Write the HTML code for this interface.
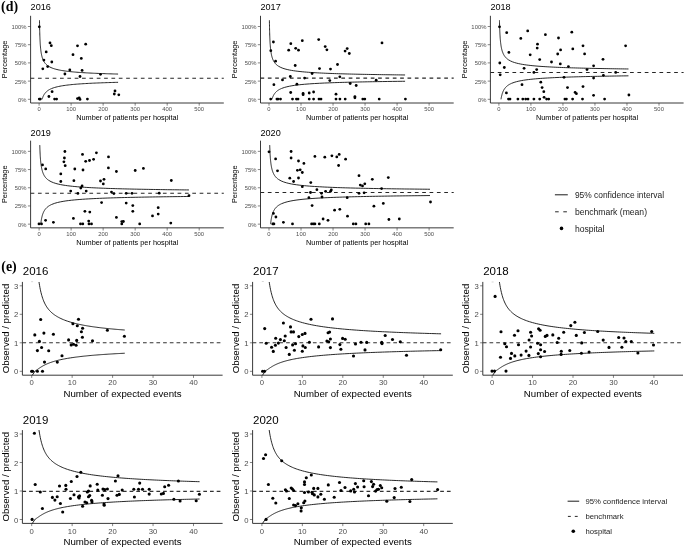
<!DOCTYPE html>
<html><head><meta charset="utf-8"><style>
html,body{margin:0;padding:0;background:#fff;}
body{width:685px;height:549px;position:relative;overflow:hidden;font-family:"Liberation Sans", sans-serif;}
</style></head><body>
<svg width="685" height="549" viewBox="0 0 685 549" style="position:absolute;left:0;top:0;will-change:transform" font-family='"Liberation Sans", sans-serif'>
<rect width="685" height="549" fill="#fff"/>
<text x="1.1" y="10.9" font-family='"Liberation Serif", serif' font-weight="bold" font-size="13.9">(d)</text>
<text x="1.3" y="270.6" font-family='"Liberation Serif", serif' font-weight="bold" font-size="13.9">(e)</text>
<clipPath id="cd2016"><rect x="30.6" y="15.8" width="193.2" height="87.2"/></clipPath>
<path d="M30.6 15.8V103H223.8" fill="none" stroke="#222222" stroke-width="0.9"/>
<line x1="27.9" y1="99.3" x2="30.6" y2="99.3" stroke="#333333" stroke-width="0.6"/>
<text x="26.6" y="101.81" font-size="5.88" fill="#4d4d4d" text-anchor="end">0%</text>
<line x1="27.9" y1="81.1" x2="30.6" y2="81.1" stroke="#333333" stroke-width="0.6"/>
<text x="26.6" y="83.61" font-size="5.88" fill="#4d4d4d" text-anchor="end">25%</text>
<line x1="27.9" y1="62.9" x2="30.6" y2="62.9" stroke="#333333" stroke-width="0.6"/>
<text x="26.6" y="65.41" font-size="5.88" fill="#4d4d4d" text-anchor="end">50%</text>
<line x1="27.9" y1="44.7" x2="30.6" y2="44.7" stroke="#333333" stroke-width="0.6"/>
<text x="26.6" y="47.21" font-size="5.88" fill="#4d4d4d" text-anchor="end">75%</text>
<line x1="27.9" y1="26.5" x2="30.6" y2="26.5" stroke="#333333" stroke-width="0.6"/>
<text x="26.6" y="29.01" font-size="5.88" fill="#4d4d4d" text-anchor="end">100%</text>
<line x1="39.1" y1="103" x2="39.1" y2="105.7" stroke="#333333" stroke-width="0.6"/>
<text x="39.1" y="110.9" font-size="5.88" fill="#4d4d4d" text-anchor="middle">0</text>
<line x1="71.12" y1="103" x2="71.12" y2="105.7" stroke="#333333" stroke-width="0.6"/>
<text x="71.12" y="110.9" font-size="5.88" fill="#4d4d4d" text-anchor="middle">100</text>
<line x1="103.14" y1="103" x2="103.14" y2="105.7" stroke="#333333" stroke-width="0.6"/>
<text x="103.14" y="110.9" font-size="5.88" fill="#4d4d4d" text-anchor="middle">200</text>
<line x1="135.16" y1="103" x2="135.16" y2="105.7" stroke="#333333" stroke-width="0.6"/>
<text x="135.16" y="110.9" font-size="5.88" fill="#4d4d4d" text-anchor="middle">300</text>
<line x1="167.18" y1="103" x2="167.18" y2="105.7" stroke="#333333" stroke-width="0.6"/>
<text x="167.18" y="110.9" font-size="5.88" fill="#4d4d4d" text-anchor="middle">400</text>
<line x1="199.2" y1="103" x2="199.2" y2="105.7" stroke="#333333" stroke-width="0.6"/>
<text x="199.2" y="110.9" font-size="5.88" fill="#4d4d4d" text-anchor="middle">500</text>
<text x="127.2" y="120.4" font-size="7.35" text-anchor="middle">Number of patients per hospital</text>
<text transform="translate(7,59.4) rotate(-90)" font-size="7.35" text-anchor="middle">Percentage</text>
<text x="30.6" y="9.8" font-size="9.1">2016</text>
<line x1="30.6" y1="78.19" x2="223.8" y2="78.19" stroke="#262626" stroke-width="1.05" stroke-dasharray="3.7 3.65"/>
<g clip-path="url(#cd2016)" fill="none" stroke="#000" stroke-width="0.85"><path d="M39.5 20.31 L39.52 21.85 L39.55 23.35 L39.57 24.8 L39.6 26.22 L39.62 27.6 L39.65 28.94 L39.68 30.25 L39.72 31.53 L39.75 32.77 L39.79 33.97 L39.82 35.15 L39.86 36.29 L39.91 37.4 L39.95 38.49 L40 39.54 L40.05 40.57 L40.1 41.57 L40.16 42.54 L40.21 43.49 L40.28 44.41 L40.34 45.31 L40.41 46.18 L40.48 47.03 L40.56 47.86 L40.64 48.66 L40.72 49.45 L40.81 50.21 L40.91 50.95 L41.01 51.68 L41.12 52.38 L41.23 53.07 L41.34 53.73 L41.47 54.38 L41.6 55.02 L41.74 55.63 L41.88 56.23 L42.04 56.81 L42.2 57.38 L42.37 57.93 L42.55 58.47 L42.74 59 L42.95 59.51 L43.16 60 L43.38 60.49 L43.62 60.96 L43.87 61.41 L44.13 61.86 L44.41 62.29 L44.71 62.71 L45.02 63.13 L45.34 63.53 L45.69 63.92 L46.05 64.29 L46.44 64.66 L46.84 65.02 L47.27 65.37 L47.73 65.71 L48.2 66.04 L48.71 66.37 L49.88 67.03 L51.06 67.59 L52.23 68.08 L53.41 68.5 L54.59 68.88 L55.76 69.21 L56.94 69.51 L58.11 69.79 L59.29 70.03 L60.47 70.26 L61.64 70.47 L62.82 70.67 L63.99 70.85 L65.17 71.01 L66.35 71.17 L67.52 71.32 L68.7 71.45 L69.88 71.58 L71.05 71.71 L72.23 71.82 L73.4 71.93 L74.58 72.04 L75.76 72.14 L76.93 72.23 L78.11 72.32 L79.28 72.41 L80.46 72.49 L81.64 72.57 L82.81 72.65 L83.99 72.72 L85.16 72.79 L86.34 72.86 L87.52 72.92 L88.69 72.99 L89.87 73.05 L91.04 73.1 L92.22 73.16 L93.4 73.22 L94.57 73.27 L95.75 73.32 L96.92 73.37 L98.1 73.42 L99.28 73.47 L100.45 73.51 L101.63 73.55 L102.8 73.6 L103.98 73.64 L105.16 73.68 L106.33 73.72 L107.51 73.76 L108.68 73.8 L109.86 73.83 L111.04 73.87 L112.21 73.9 L113.39 73.94 L114.57 73.97 L115.74 74 L116.92 74.03 L118.09 74.07"/><path d="M42.11 99.3 L42.2 98.99 L42.29 98.69 L42.39 98.38 L42.49 98.09 L42.59 97.8 L42.7 97.51 L42.8 97.23 L42.91 96.95 L43.03 96.67 L43.15 96.4 L43.27 96.13 L43.39 95.87 L43.52 95.61 L43.65 95.36 L43.79 95.1 L43.93 94.86 L44.08 94.61 L44.23 94.37 L44.38 94.13 L44.54 93.9 L44.7 93.67 L44.87 93.44 L45.04 93.22 L45.22 93 L45.4 92.78 L45.59 92.57 L45.79 92.36 L45.99 92.15 L46.19 91.94 L46.41 91.74 L46.63 91.54 L46.85 91.35 L47.08 91.15 L47.32 90.96 L47.57 90.78 L47.82 90.59 L48.08 90.41 L48.35 90.23 L48.63 90.05 L48.92 89.88 L49.21 89.71 L49.52 89.54 L49.83 89.37 L50.15 89.21 L50.48 89.05 L50.82 88.89 L51.17 88.73 L51.54 88.58 L51.91 88.43 L53.26 87.92 L54.61 87.49 L55.96 87.11 L57.31 86.77 L58.66 86.47 L60.01 86.2 L61.36 85.95 L62.71 85.73 L64.06 85.52 L65.42 85.33 L66.77 85.15 L68.12 84.99 L69.47 84.84 L70.82 84.69 L72.17 84.56 L73.52 84.43 L74.87 84.31 L76.22 84.2 L77.57 84.09 L78.92 83.99 L80.27 83.9 L81.62 83.81 L82.97 83.72 L84.33 83.64 L85.68 83.56 L87.03 83.48 L88.38 83.41 L89.73 83.34 L91.08 83.27 L92.43 83.2 L93.78 83.14 L95.13 83.08 L96.48 83.02 L97.83 82.97 L99.18 82.91 L100.53 82.86 L101.88 82.81 L103.24 82.76 L104.59 82.72 L105.94 82.67 L107.29 82.62 L108.64 82.58 L109.99 82.54 L111.34 82.5 L112.69 82.46 L114.04 82.42 L115.39 82.38 L116.74 82.35 L118.09 82.31"/></g>
<g fill="#000"><circle cx="39.3" cy="26.8" r="1.4"/><circle cx="50" cy="42.9" r="1.4"/><circle cx="51.3" cy="45.7" r="1.4"/><circle cx="46.2" cy="51.9" r="1.4"/><circle cx="43.9" cy="60.1" r="1.4"/><circle cx="51.8" cy="62" r="1.4"/><circle cx="42.8" cy="68.8" r="1.4"/><circle cx="47.7" cy="66.6" r="1.4"/><circle cx="64.9" cy="74" r="1.4"/><circle cx="69.8" cy="69.9" r="1.4"/><circle cx="73" cy="54.7" r="1.4"/><circle cx="77.5" cy="45.8" r="1.4"/><circle cx="85.7" cy="44.2" r="1.4"/><circle cx="81.3" cy="58.4" r="1.4"/><circle cx="82.1" cy="70.4" r="1.4"/><circle cx="80" cy="76.5" r="1.4"/><circle cx="100.5" cy="74.3" r="1.4"/><circle cx="52.1" cy="91.7" r="1.4"/><circle cx="48.9" cy="96.5" r="1.4"/><circle cx="39.3" cy="99.1" r="1.4"/><circle cx="40.3" cy="99.1" r="1.4"/><circle cx="54.6" cy="99.1" r="1.4"/><circle cx="56.6" cy="99.1" r="1.4"/><circle cx="77.5" cy="98.6" r="1.4"/><circle cx="79.2" cy="97.8" r="1.4"/><circle cx="80" cy="99.4" r="1.4"/><circle cx="87.4" cy="99.1" r="1.4"/><circle cx="115" cy="90.9" r="1.4"/><circle cx="114.3" cy="94" r="1.4"/><circle cx="118.8" cy="94.8" r="1.4"/></g>
<clipPath id="cd2017"><rect x="260.5" y="15.8" width="193.2" height="87.2"/></clipPath>
<path d="M260.5 15.8V103H453.7" fill="none" stroke="#222222" stroke-width="0.9"/>
<line x1="257.8" y1="99.3" x2="260.5" y2="99.3" stroke="#333333" stroke-width="0.6"/>
<text x="256.5" y="101.81" font-size="5.88" fill="#4d4d4d" text-anchor="end">0%</text>
<line x1="257.8" y1="81.1" x2="260.5" y2="81.1" stroke="#333333" stroke-width="0.6"/>
<text x="256.5" y="83.61" font-size="5.88" fill="#4d4d4d" text-anchor="end">25%</text>
<line x1="257.8" y1="62.9" x2="260.5" y2="62.9" stroke="#333333" stroke-width="0.6"/>
<text x="256.5" y="65.41" font-size="5.88" fill="#4d4d4d" text-anchor="end">50%</text>
<line x1="257.8" y1="44.7" x2="260.5" y2="44.7" stroke="#333333" stroke-width="0.6"/>
<text x="256.5" y="47.21" font-size="5.88" fill="#4d4d4d" text-anchor="end">75%</text>
<line x1="257.8" y1="26.5" x2="260.5" y2="26.5" stroke="#333333" stroke-width="0.6"/>
<text x="256.5" y="29.01" font-size="5.88" fill="#4d4d4d" text-anchor="end">100%</text>
<line x1="269" y1="103" x2="269" y2="105.7" stroke="#333333" stroke-width="0.6"/>
<text x="269" y="110.9" font-size="5.88" fill="#4d4d4d" text-anchor="middle">0</text>
<line x1="301.02" y1="103" x2="301.02" y2="105.7" stroke="#333333" stroke-width="0.6"/>
<text x="301.02" y="110.9" font-size="5.88" fill="#4d4d4d" text-anchor="middle">100</text>
<line x1="333.04" y1="103" x2="333.04" y2="105.7" stroke="#333333" stroke-width="0.6"/>
<text x="333.04" y="110.9" font-size="5.88" fill="#4d4d4d" text-anchor="middle">200</text>
<line x1="365.06" y1="103" x2="365.06" y2="105.7" stroke="#333333" stroke-width="0.6"/>
<text x="365.06" y="110.9" font-size="5.88" fill="#4d4d4d" text-anchor="middle">300</text>
<line x1="397.08" y1="103" x2="397.08" y2="105.7" stroke="#333333" stroke-width="0.6"/>
<text x="397.08" y="110.9" font-size="5.88" fill="#4d4d4d" text-anchor="middle">400</text>
<line x1="429.1" y1="103" x2="429.1" y2="105.7" stroke="#333333" stroke-width="0.6"/>
<text x="429.1" y="110.9" font-size="5.88" fill="#4d4d4d" text-anchor="middle">500</text>
<text x="357.1" y="120.4" font-size="7.35" text-anchor="middle">Number of patients per hospital</text>
<text transform="translate(236.9,59.4) rotate(-90)" font-size="7.35" text-anchor="middle">Percentage</text>
<text x="260.5" y="9.8" font-size="9.1">2017</text>
<line x1="260.5" y1="78.12" x2="453.7" y2="78.12" stroke="#262626" stroke-width="1.05" stroke-dasharray="3.7 3.65"/>
<g clip-path="url(#cd2017)" fill="none" stroke="#000" stroke-width="0.85"><path d="M269.4 20.31 L269.42 21.85 L269.45 23.34 L269.47 24.79 L269.5 26.21 L269.53 27.58 L269.56 28.92 L269.59 30.23 L269.62 31.5 L269.65 32.73 L269.69 33.94 L269.73 35.11 L269.77 36.25 L269.81 37.36 L269.85 38.44 L269.9 39.49 L269.95 40.52 L270 41.52 L270.06 42.49 L270.12 43.43 L270.18 44.35 L270.25 45.25 L270.31 46.12 L270.39 46.97 L270.46 47.79 L270.54 48.6 L270.63 49.38 L270.72 50.14 L270.81 50.89 L270.91 51.61 L271.02 52.31 L271.13 53 L271.25 53.66 L271.37 54.31 L271.5 54.94 L271.64 55.56 L271.79 56.16 L271.94 56.74 L272.11 57.3 L272.28 57.86 L272.46 58.39 L272.65 58.92 L272.85 59.43 L273.06 59.92 L273.29 60.4 L273.53 60.87 L273.78 61.33 L274.04 61.78 L274.32 62.21 L274.61 62.63 L274.92 63.04 L275.25 63.44 L275.59 63.83 L275.96 64.21 L276.34 64.58 L276.75 64.94 L277.18 65.29 L277.63 65.63 L278.1 65.96 L278.61 66.28 L280.75 67.42 L282.89 68.28 L285.04 68.96 L287.18 69.51 L289.32 69.98 L291.47 70.38 L293.61 70.72 L295.76 71.02 L297.9 71.29 L300.04 71.53 L302.19 71.75 L304.33 71.95 L306.47 72.12 L308.62 72.29 L310.76 72.44 L312.91 72.58 L315.05 72.71 L317.19 72.83 L319.34 72.95 L321.48 73.05 L323.62 73.15 L325.77 73.25 L327.91 73.34 L330.06 73.42 L332.2 73.5 L334.34 73.58 L336.49 73.65 L338.63 73.72 L340.77 73.79 L342.92 73.85 L345.06 73.91 L347.2 73.97 L349.35 74.02 L351.49 74.08 L353.64 74.13 L355.78 74.18 L357.92 74.23 L360.07 74.27 L362.21 74.32 L364.35 74.36 L366.5 74.4 L368.64 74.44 L370.79 74.48 L372.93 74.52 L375.07 74.55 L377.22 74.59 L379.36 74.62 L381.5 74.66 L383.65 74.69 L385.79 74.72 L387.94 74.75 L390.08 74.78 L392.22 74.81 L394.37 74.84 L396.51 74.87 L398.65 74.89 L400.8 74.92 L402.94 74.95 L405.08 74.97"/><path d="M272 99.3 L272.09 98.99 L272.18 98.68 L272.28 98.38 L272.37 98.08 L272.48 97.79 L272.58 97.5 L272.69 97.21 L272.8 96.93 L272.91 96.65 L273.03 96.38 L273.15 96.11 L273.28 95.85 L273.41 95.59 L273.54 95.33 L273.68 95.08 L273.82 94.83 L273.96 94.58 L274.11 94.34 L274.26 94.1 L274.42 93.87 L274.59 93.63 L274.75 93.41 L274.93 93.18 L275.1 92.96 L275.29 92.74 L275.48 92.53 L275.67 92.31 L275.87 92.1 L276.08 91.9 L276.29 91.7 L276.51 91.5 L276.74 91.3 L276.97 91.11 L277.21 90.91 L277.46 90.73 L277.71 90.54 L277.97 90.36 L278.24 90.18 L278.52 90 L278.81 89.83 L279.1 89.65 L279.41 89.48 L279.72 89.32 L280.04 89.15 L280.38 88.99 L280.72 88.83 L281.07 88.67 L281.43 88.52 L281.81 88.36 L284.32 87.48 L286.84 86.8 L289.36 86.24 L291.87 85.78 L294.39 85.39 L296.9 85.06 L299.42 84.76 L301.93 84.51 L304.45 84.27 L306.97 84.07 L309.48 83.88 L312 83.71 L314.51 83.55 L317.03 83.41 L319.55 83.27 L322.06 83.15 L324.58 83.03 L327.09 82.93 L329.61 82.83 L332.13 82.73 L334.64 82.64 L337.16 82.56 L339.67 82.48 L342.19 82.4 L344.7 82.33 L347.22 82.26 L349.74 82.2 L352.25 82.13 L354.77 82.08 L357.28 82.02 L359.8 81.96 L362.32 81.91 L364.83 81.86 L367.35 81.81 L369.86 81.77 L372.38 81.72 L374.89 81.68 L377.41 81.64 L379.93 81.6 L382.44 81.56 L384.96 81.52 L387.47 81.48 L389.99 81.45 L392.51 81.42 L395.02 81.38 L397.54 81.35 L400.05 81.32 L402.57 81.29 L405.08 81.26"/></g>
<g fill="#000"><circle cx="273.4" cy="42" r="1.4"/><circle cx="270.8" cy="50.7" r="1.4"/><circle cx="275.6" cy="61.2" r="1.4"/><circle cx="290.8" cy="43.7" r="1.4"/><circle cx="288.7" cy="50.2" r="1.4"/><circle cx="295.7" cy="48.3" r="1.4"/><circle cx="298.5" cy="50.2" r="1.4"/><circle cx="302.3" cy="40.7" r="1.4"/><circle cx="295.2" cy="65.5" r="1.4"/><circle cx="318.7" cy="39.6" r="1.4"/><circle cx="325.2" cy="46.6" r="1.4"/><circle cx="326.9" cy="49.8" r="1.4"/><circle cx="319.5" cy="68.6" r="1.4"/><circle cx="330.5" cy="69.1" r="1.4"/><circle cx="337.5" cy="64.5" r="1.4"/><circle cx="312.1" cy="73.5" r="1.4"/><circle cx="290.3" cy="76.5" r="1.4"/><circle cx="304.6" cy="78.1" r="1.4"/><circle cx="282.5" cy="79.9" r="1.4"/><circle cx="339.8" cy="76.8" r="1.4"/><circle cx="329.8" cy="80.6" r="1.4"/><circle cx="273.9" cy="84.7" r="1.4"/><circle cx="296.9" cy="84.2" r="1.4"/><circle cx="290.7" cy="92.5" r="1.4"/><circle cx="303.1" cy="93.4" r="1.4"/><circle cx="303.1" cy="94.7" r="1.4"/><circle cx="309.2" cy="93" r="1.4"/><circle cx="313.6" cy="92" r="1.4"/><circle cx="336" cy="94.2" r="1.4"/><circle cx="345.1" cy="51.1" r="1.4"/><circle cx="347.2" cy="48.6" r="1.4"/><circle cx="349.3" cy="53.5" r="1.4"/><circle cx="382" cy="42.9" r="1.4"/><circle cx="350.2" cy="83.5" r="1.4"/><circle cx="356.2" cy="85.5" r="1.4"/><circle cx="376.2" cy="80.2" r="1.4"/><circle cx="354.9" cy="96.6" r="1.4"/><circle cx="354.9" cy="97.8" r="1.4"/><circle cx="270.7" cy="99.1" r="1.4"/><circle cx="276.9" cy="99.1" r="1.4"/><circle cx="278" cy="99.1" r="1.4"/><circle cx="280.5" cy="99.1" r="1.4"/><circle cx="292.5" cy="99.1" r="1.4"/><circle cx="296.4" cy="99.1" r="1.4"/><circle cx="298" cy="99.1" r="1.4"/><circle cx="309.2" cy="99.1" r="1.4"/><circle cx="313.6" cy="99.1" r="1.4"/><circle cx="319" cy="99.1" r="1.4"/><circle cx="321" cy="99.1" r="1.4"/><circle cx="336" cy="99.1" r="1.4"/><circle cx="339.9" cy="99.1" r="1.4"/><circle cx="345.2" cy="99.1" r="1.4"/><circle cx="362.8" cy="99.1" r="1.4"/><circle cx="364.8" cy="99.1" r="1.4"/><circle cx="379.2" cy="99.1" r="1.4"/><circle cx="405.4" cy="99.1" r="1.4"/></g>
<clipPath id="cd2018"><rect x="490.4" y="15.8" width="193.2" height="87.2"/></clipPath>
<path d="M490.4 15.8V103H683.6" fill="none" stroke="#222222" stroke-width="0.9"/>
<line x1="487.7" y1="99.3" x2="490.4" y2="99.3" stroke="#333333" stroke-width="0.6"/>
<text x="486.4" y="101.81" font-size="5.88" fill="#4d4d4d" text-anchor="end">0%</text>
<line x1="487.7" y1="81.1" x2="490.4" y2="81.1" stroke="#333333" stroke-width="0.6"/>
<text x="486.4" y="83.61" font-size="5.88" fill="#4d4d4d" text-anchor="end">25%</text>
<line x1="487.7" y1="62.9" x2="490.4" y2="62.9" stroke="#333333" stroke-width="0.6"/>
<text x="486.4" y="65.41" font-size="5.88" fill="#4d4d4d" text-anchor="end">50%</text>
<line x1="487.7" y1="44.7" x2="490.4" y2="44.7" stroke="#333333" stroke-width="0.6"/>
<text x="486.4" y="47.21" font-size="5.88" fill="#4d4d4d" text-anchor="end">75%</text>
<line x1="487.7" y1="26.5" x2="490.4" y2="26.5" stroke="#333333" stroke-width="0.6"/>
<text x="486.4" y="29.01" font-size="5.88" fill="#4d4d4d" text-anchor="end">100%</text>
<line x1="498.9" y1="103" x2="498.9" y2="105.7" stroke="#333333" stroke-width="0.6"/>
<text x="498.9" y="110.9" font-size="5.88" fill="#4d4d4d" text-anchor="middle">0</text>
<line x1="530.92" y1="103" x2="530.92" y2="105.7" stroke="#333333" stroke-width="0.6"/>
<text x="530.92" y="110.9" font-size="5.88" fill="#4d4d4d" text-anchor="middle">100</text>
<line x1="562.94" y1="103" x2="562.94" y2="105.7" stroke="#333333" stroke-width="0.6"/>
<text x="562.94" y="110.9" font-size="5.88" fill="#4d4d4d" text-anchor="middle">200</text>
<line x1="594.96" y1="103" x2="594.96" y2="105.7" stroke="#333333" stroke-width="0.6"/>
<text x="594.96" y="110.9" font-size="5.88" fill="#4d4d4d" text-anchor="middle">300</text>
<line x1="626.98" y1="103" x2="626.98" y2="105.7" stroke="#333333" stroke-width="0.6"/>
<text x="626.98" y="110.9" font-size="5.88" fill="#4d4d4d" text-anchor="middle">400</text>
<line x1="659" y1="103" x2="659" y2="105.7" stroke="#333333" stroke-width="0.6"/>
<text x="659" y="110.9" font-size="5.88" fill="#4d4d4d" text-anchor="middle">500</text>
<text x="587" y="120.4" font-size="7.35" text-anchor="middle">Number of patients per hospital</text>
<text transform="translate(466.8,59.4) rotate(-90)" font-size="7.35" text-anchor="middle">Percentage</text>
<text x="490.4" y="9.8" font-size="9.1">2018</text>
<line x1="490.4" y1="72.4" x2="683.6" y2="72.4" stroke="#262626" stroke-width="1.05" stroke-dasharray="3.7 3.65"/>
<g clip-path="url(#cd2018)" fill="none" stroke="#000" stroke-width="0.85"><path d="M499.46 20.31 L499.49 21.55 L499.52 22.76 L499.55 23.94 L499.58 25.1 L499.61 26.22 L499.65 27.32 L499.68 28.39 L499.72 29.44 L499.76 30.46 L499.81 31.46 L499.85 32.44 L499.9 33.39 L499.95 34.32 L500 35.22 L500.05 36.11 L500.11 36.97 L500.17 37.82 L500.23 38.64 L500.3 39.44 L500.37 40.23 L500.44 40.99 L500.52 41.74 L500.6 42.47 L500.68 43.18 L500.77 43.88 L500.86 44.56 L500.96 45.22 L501.06 45.87 L501.16 46.5 L501.28 47.11 L501.39 47.72 L501.52 48.3 L501.64 48.88 L501.78 49.44 L501.92 49.98 L502.07 50.52 L502.23 51.04 L502.39 51.55 L502.56 52.04 L502.75 52.53 L502.94 53 L503.13 53.46 L503.34 53.91 L503.56 54.35 L503.79 54.78 L504.03 55.2 L504.29 55.61 L504.55 56.01 L504.83 56.4 L505.13 56.78 L505.43 57.15 L505.76 57.52 L506.09 57.87 L506.45 58.22 L506.82 58.55 L507.21 58.88 L507.62 59.21 L508.05 59.52 L508.51 59.83 L510.54 60.98 L512.57 61.86 L514.61 62.57 L516.64 63.15 L518.67 63.64 L520.71 64.05 L522.74 64.42 L524.77 64.74 L526.81 65.02 L528.84 65.28 L530.87 65.51 L532.91 65.72 L534.94 65.91 L536.98 66.08 L539.01 66.25 L541.04 66.4 L543.08 66.54 L545.11 66.67 L547.14 66.79 L549.18 66.9 L551.21 67.01 L553.24 67.11 L555.28 67.21 L557.31 67.3 L559.34 67.39 L561.38 67.47 L563.41 67.55 L565.45 67.62 L567.48 67.69 L569.51 67.76 L571.55 67.83 L573.58 67.89 L575.61 67.95 L577.65 68.01 L579.68 68.06 L581.71 68.12 L583.75 68.17 L585.78 68.22 L587.81 68.27 L589.85 68.31 L591.88 68.36 L593.91 68.4 L595.95 68.44 L597.98 68.49 L600.02 68.52 L602.05 68.56 L604.08 68.6 L606.12 68.64 L608.15 68.67 L610.18 68.71 L612.22 68.74 L614.25 68.77 L616.28 68.8 L618.32 68.83 L620.35 68.86 L622.38 68.89 L624.42 68.92 L626.45 68.95 L628.48 68.98"/><path d="M501 99.3 L501.08 98.81 L501.16 98.33 L501.24 97.85 L501.33 97.39 L501.42 96.93 L501.52 96.48 L501.62 96.04 L501.72 95.61 L501.83 95.18 L501.94 94.77 L502.05 94.36 L502.17 93.96 L502.29 93.56 L502.42 93.18 L502.55 92.8 L502.69 92.42 L502.83 92.06 L502.98 91.7 L503.13 91.34 L503.29 91 L503.46 90.66 L503.63 90.32 L503.81 90 L503.99 89.67 L504.18 89.36 L504.38 89.05 L504.59 88.74 L504.8 88.44 L505.02 88.15 L505.25 87.86 L505.49 87.58 L505.74 87.3 L506 87.03 L506.26 86.76 L506.54 86.5 L506.83 86.24 L507.12 85.99 L507.43 85.74 L507.75 85.5 L508.09 85.26 L508.43 85.02 L508.79 84.79 L509.16 84.56 L509.55 84.34 L509.95 84.12 L510.37 83.91 L510.8 83.7 L511.24 83.49 L511.71 83.29 L514.09 82.4 L516.47 81.7 L518.86 81.12 L521.24 80.65 L523.62 80.24 L526.01 79.89 L528.39 79.58 L530.77 79.3 L533.16 79.06 L535.54 78.84 L537.92 78.64 L540.31 78.46 L542.69 78.29 L545.07 78.14 L547.46 77.99 L549.84 77.86 L552.22 77.74 L554.61 77.62 L556.99 77.51 L559.37 77.41 L561.76 77.32 L564.14 77.23 L566.52 77.14 L568.9 77.06 L571.29 76.98 L573.67 76.91 L576.05 76.84 L578.44 76.77 L580.82 76.71 L583.2 76.64 L585.59 76.59 L587.97 76.53 L590.35 76.48 L592.74 76.42 L595.12 76.37 L597.5 76.33 L599.89 76.28 L602.27 76.23 L604.65 76.19 L607.04 76.15 L609.42 76.11 L611.8 76.07 L614.19 76.03 L616.57 75.99 L618.95 75.96 L621.34 75.92 L623.72 75.89 L626.1 75.86 L628.48 75.82"/></g>
<g fill="#000"><circle cx="499.5" cy="26.8" r="1.4"/><circle cx="506.7" cy="32.7" r="1.4"/><circle cx="527.7" cy="30.9" r="1.4"/><circle cx="520.8" cy="38.4" r="1.4"/><circle cx="545.4" cy="34.7" r="1.4"/><circle cx="558.5" cy="38" r="1.4"/><circle cx="537.5" cy="44.2" r="1.4"/><circle cx="537.2" cy="48.1" r="1.4"/><circle cx="560.6" cy="49.9" r="1.4"/><circle cx="557.7" cy="54" r="1.4"/><circle cx="508.9" cy="52.4" r="1.4"/><circle cx="530.2" cy="54.8" r="1.4"/><circle cx="539.7" cy="59.6" r="1.4"/><circle cx="551.5" cy="62" r="1.4"/><circle cx="560.3" cy="63.9" r="1.4"/><circle cx="499.8" cy="63" r="1.4"/><circle cx="504.3" cy="67.5" r="1.4"/><circle cx="524.1" cy="68.3" r="1.4"/><circle cx="536.7" cy="69.6" r="1.4"/><circle cx="533.9" cy="72.4" r="1.4"/><circle cx="568.4" cy="66.6" r="1.4"/><circle cx="500.2" cy="74.8" r="1.4"/><circle cx="564" cy="77.3" r="1.4"/><circle cx="522" cy="84.7" r="1.4"/><circle cx="540.8" cy="82.2" r="1.4"/><circle cx="542.1" cy="87.6" r="1.4"/><circle cx="543.8" cy="91.7" r="1.4"/><circle cx="506.4" cy="92.9" r="1.4"/><circle cx="567.5" cy="87.6" r="1.4"/><circle cx="544.1" cy="97.3" r="1.4"/><circle cx="571.8" cy="32.2" r="1.4"/><circle cx="583" cy="45.8" r="1.4"/><circle cx="572.8" cy="48.9" r="1.4"/><circle cx="584.6" cy="53.9" r="1.4"/><circle cx="603" cy="59.3" r="1.4"/><circle cx="625.6" cy="45.8" r="1.4"/><circle cx="593.6" cy="65.8" r="1.4"/><circle cx="587" cy="69.6" r="1.4"/><circle cx="615.7" cy="72.4" r="1.4"/><circle cx="593.6" cy="78.1" r="1.4"/><circle cx="603.4" cy="75.3" r="1.4"/><circle cx="583" cy="86.6" r="1.4"/><circle cx="575.1" cy="92.4" r="1.4"/><circle cx="576.4" cy="93.7" r="1.4"/><circle cx="593.6" cy="95.3" r="1.4"/><circle cx="628.9" cy="95" r="1.4"/><circle cx="508.5" cy="99.1" r="1.4"/><circle cx="510" cy="99.1" r="1.4"/><circle cx="517.9" cy="99.1" r="1.4"/><circle cx="522.8" cy="99.1" r="1.4"/><circle cx="525.7" cy="99.1" r="1.4"/><circle cx="528" cy="99.1" r="1.4"/><circle cx="533.9" cy="99.1" r="1.4"/><circle cx="539.7" cy="99.1" r="1.4"/><circle cx="546.6" cy="99.1" r="1.4"/><circle cx="548.7" cy="99.1" r="1.4"/><circle cx="564.9" cy="99.1" r="1.4"/><circle cx="566.4" cy="99.1" r="1.4"/><circle cx="572.6" cy="99.1" r="1.4"/><circle cx="582.5" cy="99.1" r="1.4"/><circle cx="604.6" cy="99.1" r="1.4"/></g>
<clipPath id="cd2019"><rect x="30.6" y="140.65" width="193.2" height="87.2"/></clipPath>
<path d="M30.6 140.65V227.85H223.8" fill="none" stroke="#222222" stroke-width="0.9"/>
<line x1="27.9" y1="224.15" x2="30.6" y2="224.15" stroke="#333333" stroke-width="0.6"/>
<text x="26.6" y="226.66" font-size="5.88" fill="#4d4d4d" text-anchor="end">0%</text>
<line x1="27.9" y1="205.95" x2="30.6" y2="205.95" stroke="#333333" stroke-width="0.6"/>
<text x="26.6" y="208.46" font-size="5.88" fill="#4d4d4d" text-anchor="end">25%</text>
<line x1="27.9" y1="187.75" x2="30.6" y2="187.75" stroke="#333333" stroke-width="0.6"/>
<text x="26.6" y="190.26" font-size="5.88" fill="#4d4d4d" text-anchor="end">50%</text>
<line x1="27.9" y1="169.55" x2="30.6" y2="169.55" stroke="#333333" stroke-width="0.6"/>
<text x="26.6" y="172.06" font-size="5.88" fill="#4d4d4d" text-anchor="end">75%</text>
<line x1="27.9" y1="151.35" x2="30.6" y2="151.35" stroke="#333333" stroke-width="0.6"/>
<text x="26.6" y="153.86" font-size="5.88" fill="#4d4d4d" text-anchor="end">100%</text>
<line x1="39.1" y1="227.85" x2="39.1" y2="230.55" stroke="#333333" stroke-width="0.6"/>
<text x="39.1" y="235.75" font-size="5.88" fill="#4d4d4d" text-anchor="middle">0</text>
<line x1="71.12" y1="227.85" x2="71.12" y2="230.55" stroke="#333333" stroke-width="0.6"/>
<text x="71.12" y="235.75" font-size="5.88" fill="#4d4d4d" text-anchor="middle">100</text>
<line x1="103.14" y1="227.85" x2="103.14" y2="230.55" stroke="#333333" stroke-width="0.6"/>
<text x="103.14" y="235.75" font-size="5.88" fill="#4d4d4d" text-anchor="middle">200</text>
<line x1="135.16" y1="227.85" x2="135.16" y2="230.55" stroke="#333333" stroke-width="0.6"/>
<text x="135.16" y="235.75" font-size="5.88" fill="#4d4d4d" text-anchor="middle">300</text>
<line x1="167.18" y1="227.85" x2="167.18" y2="230.55" stroke="#333333" stroke-width="0.6"/>
<text x="167.18" y="235.75" font-size="5.88" fill="#4d4d4d" text-anchor="middle">400</text>
<line x1="199.2" y1="227.85" x2="199.2" y2="230.55" stroke="#333333" stroke-width="0.6"/>
<text x="199.2" y="235.75" font-size="5.88" fill="#4d4d4d" text-anchor="middle">500</text>
<text x="127.2" y="245.25" font-size="7.35" text-anchor="middle">Number of patients per hospital</text>
<text transform="translate(7,184.25) rotate(-90)" font-size="7.35" text-anchor="middle">Percentage</text>
<text x="30.6" y="135.65" font-size="9.1">2019</text>
<line x1="30.6" y1="193.21" x2="223.8" y2="193.21" stroke="#262626" stroke-width="1.05" stroke-dasharray="3.7 3.65"/>
<g clip-path="url(#cd2019)" fill="none" stroke="#000" stroke-width="0.85"><path d="M39.79 145.16 L39.82 146.22 L39.85 147.26 L39.89 148.27 L39.92 149.27 L39.96 150.23 L40 151.18 L40.04 152.11 L40.09 153.02 L40.13 153.9 L40.18 154.77 L40.23 155.62 L40.28 156.45 L40.33 157.26 L40.39 158.05 L40.45 158.83 L40.51 159.59 L40.57 160.33 L40.64 161.06 L40.71 161.77 L40.78 162.46 L40.86 163.14 L40.94 163.8 L41.03 164.45 L41.11 165.09 L41.21 165.71 L41.3 166.31 L41.4 166.91 L41.51 167.49 L41.62 168.06 L41.73 168.61 L41.85 169.15 L41.98 169.68 L42.11 170.2 L42.25 170.71 L42.39 171.21 L42.54 171.69 L42.7 172.17 L42.86 172.63 L43.03 173.09 L43.21 173.53 L43.4 173.97 L43.6 174.39 L43.8 174.81 L44.02 175.21 L44.24 175.61 L44.48 176 L44.72 176.38 L44.98 176.75 L45.25 177.11 L45.53 177.47 L45.82 177.81 L46.13 178.15 L46.45 178.49 L46.78 178.81 L47.14 179.13 L47.5 179.44 L47.89 179.74 L48.29 180.04 L48.71 180.33 L51.08 181.68 L53.46 182.68 L55.84 183.45 L58.21 184.08 L60.59 184.6 L62.97 185.04 L65.35 185.42 L67.72 185.75 L70.1 186.04 L72.48 186.3 L74.85 186.53 L77.23 186.75 L79.61 186.94 L81.99 187.12 L84.36 187.28 L86.74 187.43 L89.12 187.57 L91.49 187.7 L93.87 187.82 L96.25 187.93 L98.62 188.04 L101 188.14 L103.38 188.23 L105.76 188.32 L108.13 188.41 L110.51 188.49 L112.89 188.56 L115.26 188.64 L117.64 188.71 L120.02 188.77 L122.4 188.84 L124.77 188.9 L127.15 188.96 L129.53 189.01 L131.9 189.07 L134.28 189.12 L136.66 189.17 L139.03 189.22 L141.41 189.26 L143.79 189.31 L146.17 189.35 L148.54 189.39 L150.92 189.44 L153.3 189.47 L155.67 189.51 L158.05 189.55 L160.43 189.59 L162.81 189.62 L165.18 189.66 L167.56 189.69 L169.94 189.72 L172.31 189.75 L174.69 189.78 L177.07 189.81 L179.45 189.84 L181.82 189.87 L184.2 189.9 L186.58 189.92 L188.95 189.95"/><path d="M40.76 224.15 L40.84 223.51 L40.91 222.89 L40.99 222.28 L41.07 221.68 L41.15 221.09 L41.24 220.52 L41.33 219.95 L41.42 219.4 L41.52 218.86 L41.62 218.33 L41.73 217.82 L41.84 217.31 L41.96 216.81 L42.08 216.33 L42.21 215.85 L42.34 215.38 L42.48 214.93 L42.62 214.48 L42.77 214.04 L42.93 213.61 L43.09 213.19 L43.26 212.78 L43.44 212.38 L43.62 211.98 L43.81 211.59 L44.01 211.21 L44.22 210.84 L44.44 210.48 L44.67 210.12 L44.91 209.78 L45.15 209.43 L45.41 209.1 L45.68 208.77 L45.96 208.45 L46.25 208.14 L46.55 207.83 L46.87 207.53 L47.2 207.23 L47.55 206.94 L47.9 206.66 L48.28 206.38 L48.67 206.11 L49.08 205.85 L49.5 205.59 L49.94 205.33 L50.4 205.08 L50.88 204.84 L51.39 204.6 L51.91 204.36 L54.7 203.31 L57.5 202.51 L60.3 201.88 L63.1 201.36 L65.89 200.92 L68.69 200.55 L71.49 200.22 L74.28 199.94 L77.08 199.69 L79.88 199.46 L82.67 199.26 L85.47 199.07 L88.27 198.9 L91.06 198.75 L93.86 198.6 L96.66 198.47 L99.45 198.35 L102.25 198.23 L105.05 198.13 L107.84 198.02 L110.64 197.93 L113.44 197.84 L116.24 197.75 L119.03 197.67 L121.83 197.6 L124.63 197.53 L127.42 197.46 L130.22 197.39 L133.02 197.33 L135.81 197.27 L138.61 197.21 L141.41 197.16 L144.2 197.1 L147 197.05 L149.8 197 L152.59 196.96 L155.39 196.91 L158.19 196.87 L160.99 196.83 L163.78 196.78 L166.58 196.75 L169.38 196.71 L172.17 196.67 L174.97 196.63 L177.77 196.6 L180.56 196.57 L183.36 196.53 L186.16 196.5 L188.95 196.47"/></g>
<g fill="#000"><circle cx="64.9" cy="151.5" r="1.4"/><circle cx="64.4" cy="158" r="1.4"/><circle cx="63.9" cy="161.8" r="1.4"/><circle cx="65.2" cy="165.7" r="1.4"/><circle cx="82.5" cy="154.4" r="1.4"/><circle cx="96.4" cy="152.8" r="1.4"/><circle cx="85.7" cy="161.3" r="1.4"/><circle cx="89.5" cy="160.5" r="1.4"/><circle cx="93.6" cy="159.3" r="1.4"/><circle cx="108.5" cy="156.9" r="1.4"/><circle cx="42.5" cy="164.9" r="1.4"/><circle cx="45.7" cy="168.9" r="1.4"/><circle cx="74.8" cy="169" r="1.4"/><circle cx="83" cy="170" r="1.4"/><circle cx="108.4" cy="167.9" r="1.4"/><circle cx="60.8" cy="173.9" r="1.4"/><circle cx="60.8" cy="181.5" r="1.4"/><circle cx="73.9" cy="180.7" r="1.4"/><circle cx="100.5" cy="181" r="1.4"/><circle cx="104" cy="179.3" r="1.4"/><circle cx="103.3" cy="183.9" r="1.4"/><circle cx="82.1" cy="185.9" r="1.4"/><circle cx="80.8" cy="188" r="1.4"/><circle cx="70.7" cy="191.1" r="1.4"/><circle cx="77.9" cy="193.4" r="1.4"/><circle cx="86.2" cy="191.1" r="1.4"/><circle cx="101.6" cy="202.6" r="1.4"/><circle cx="84.9" cy="211.3" r="1.4"/><circle cx="89.8" cy="212.1" r="1.4"/><circle cx="73.4" cy="218.4" r="1.4"/><circle cx="45.6" cy="220.3" r="1.4"/><circle cx="53.4" cy="222.3" r="1.4"/><circle cx="88.7" cy="221.1" r="1.4"/><circle cx="116.4" cy="171.5" r="1.4"/><circle cx="135.2" cy="170.5" r="1.4"/><circle cx="143.4" cy="168.4" r="1.4"/><circle cx="171.3" cy="180.5" r="1.4"/><circle cx="111.5" cy="192.1" r="1.4"/><circle cx="113.9" cy="193.6" r="1.4"/><circle cx="126.2" cy="193.3" r="1.4"/><circle cx="132" cy="193.3" r="1.4"/><circle cx="159.2" cy="193.2" r="1.4"/><circle cx="126.2" cy="203.1" r="1.4"/><circle cx="132.8" cy="205.6" r="1.4"/><circle cx="132.8" cy="211.3" r="1.4"/><circle cx="158.2" cy="207.7" r="1.4"/><circle cx="158.2" cy="214.1" r="1.4"/><circle cx="152.5" cy="215.9" r="1.4"/><circle cx="116.4" cy="217.4" r="1.4"/><circle cx="121.8" cy="221.6" r="1.4"/><circle cx="123.4" cy="221.5" r="1.4"/><circle cx="121.8" cy="223.9" r="1.4"/><circle cx="139.7" cy="223.9" r="1.4"/><circle cx="170.8" cy="223.1" r="1.4"/><circle cx="189" cy="195.7" r="1.4"/><circle cx="39" cy="223.9" r="1.4"/><circle cx="41.5" cy="223.9" r="1.4"/><circle cx="80.5" cy="223.9" r="1.4"/><circle cx="82.8" cy="223.9" r="1.4"/><circle cx="89" cy="223.9" r="1.4"/><circle cx="91.5" cy="223.9" r="1.4"/></g>
<clipPath id="cd2020"><rect x="260.5" y="140.65" width="193.2" height="87.2"/></clipPath>
<path d="M260.5 140.65V227.85H453.7" fill="none" stroke="#222222" stroke-width="0.9"/>
<line x1="257.8" y1="224.15" x2="260.5" y2="224.15" stroke="#333333" stroke-width="0.6"/>
<text x="256.5" y="226.66" font-size="5.88" fill="#4d4d4d" text-anchor="end">0%</text>
<line x1="257.8" y1="205.95" x2="260.5" y2="205.95" stroke="#333333" stroke-width="0.6"/>
<text x="256.5" y="208.46" font-size="5.88" fill="#4d4d4d" text-anchor="end">25%</text>
<line x1="257.8" y1="187.75" x2="260.5" y2="187.75" stroke="#333333" stroke-width="0.6"/>
<text x="256.5" y="190.26" font-size="5.88" fill="#4d4d4d" text-anchor="end">50%</text>
<line x1="257.8" y1="169.55" x2="260.5" y2="169.55" stroke="#333333" stroke-width="0.6"/>
<text x="256.5" y="172.06" font-size="5.88" fill="#4d4d4d" text-anchor="end">75%</text>
<line x1="257.8" y1="151.35" x2="260.5" y2="151.35" stroke="#333333" stroke-width="0.6"/>
<text x="256.5" y="153.86" font-size="5.88" fill="#4d4d4d" text-anchor="end">100%</text>
<line x1="269" y1="227.85" x2="269" y2="230.55" stroke="#333333" stroke-width="0.6"/>
<text x="269" y="235.75" font-size="5.88" fill="#4d4d4d" text-anchor="middle">0</text>
<line x1="301.02" y1="227.85" x2="301.02" y2="230.55" stroke="#333333" stroke-width="0.6"/>
<text x="301.02" y="235.75" font-size="5.88" fill="#4d4d4d" text-anchor="middle">100</text>
<line x1="333.04" y1="227.85" x2="333.04" y2="230.55" stroke="#333333" stroke-width="0.6"/>
<text x="333.04" y="235.75" font-size="5.88" fill="#4d4d4d" text-anchor="middle">200</text>
<line x1="365.06" y1="227.85" x2="365.06" y2="230.55" stroke="#333333" stroke-width="0.6"/>
<text x="365.06" y="235.75" font-size="5.88" fill="#4d4d4d" text-anchor="middle">300</text>
<line x1="397.08" y1="227.85" x2="397.08" y2="230.55" stroke="#333333" stroke-width="0.6"/>
<text x="397.08" y="235.75" font-size="5.88" fill="#4d4d4d" text-anchor="middle">400</text>
<line x1="429.1" y1="227.85" x2="429.1" y2="230.55" stroke="#333333" stroke-width="0.6"/>
<text x="429.1" y="235.75" font-size="5.88" fill="#4d4d4d" text-anchor="middle">500</text>
<text x="357.1" y="245.25" font-size="7.35" text-anchor="middle">Number of patients per hospital</text>
<text transform="translate(236.9,184.25) rotate(-90)" font-size="7.35" text-anchor="middle">Percentage</text>
<text x="260.5" y="135.65" font-size="9.1">2020</text>
<line x1="260.5" y1="192.41" x2="453.7" y2="192.41" stroke="#262626" stroke-width="1.05" stroke-dasharray="3.7 3.65"/>
<g clip-path="url(#cd2020)" fill="none" stroke="#000" stroke-width="0.85"><path d="M269.72 145.16 L269.75 146.19 L269.78 147.19 L269.82 148.18 L269.86 149.14 L269.89 150.08 L269.93 151 L269.98 151.9 L270.02 152.78 L270.07 153.64 L270.11 154.48 L270.16 155.31 L270.22 156.12 L270.27 156.9 L270.33 157.68 L270.39 158.43 L270.45 159.17 L270.52 159.89 L270.58 160.6 L270.66 161.29 L270.73 161.97 L270.81 162.63 L270.89 163.28 L270.97 163.91 L271.06 164.53 L271.16 165.14 L271.25 165.73 L271.35 166.31 L271.46 166.88 L271.57 167.43 L271.68 167.97 L271.81 168.5 L271.93 169.02 L272.06 169.53 L272.2 170.03 L272.34 170.52 L272.5 170.99 L272.65 171.46 L272.82 171.91 L272.99 172.36 L273.17 172.8 L273.35 173.22 L273.55 173.64 L273.75 174.05 L273.97 174.45 L274.19 174.84 L274.42 175.22 L274.67 175.59 L274.92 175.96 L275.19 176.32 L275.47 176.67 L275.76 177.01 L276.06 177.34 L276.38 177.67 L276.71 177.99 L277.06 178.3 L277.42 178.61 L277.8 178.91 L278.19 179.2 L278.61 179.49 L281.17 180.93 L283.74 181.98 L286.3 182.78 L288.87 183.43 L291.44 183.96 L294 184.4 L296.57 184.78 L299.13 185.12 L301.7 185.41 L304.27 185.67 L306.83 185.9 L309.4 186.11 L311.96 186.3 L314.53 186.48 L317.1 186.64 L319.66 186.78 L322.23 186.92 L324.79 187.05 L327.36 187.17 L329.92 187.28 L332.49 187.38 L335.06 187.48 L337.62 187.58 L340.19 187.66 L342.75 187.75 L345.32 187.83 L347.89 187.9 L350.45 187.97 L353.02 188.04 L355.58 188.11 L358.15 188.17 L360.72 188.23 L363.28 188.29 L365.85 188.34 L368.41 188.39 L370.98 188.44 L373.55 188.49 L376.11 188.54 L378.68 188.59 L381.24 188.63 L383.81 188.67 L386.38 188.71 L388.94 188.75 L391.51 188.79 L394.07 188.83 L396.64 188.87 L399.21 188.9 L401.77 188.93 L404.34 188.97 L406.9 189 L409.47 189.03 L412.03 189.06 L414.6 189.09 L417.17 189.12 L419.73 189.15 L422.3 189.18 L424.86 189.2 L427.43 189.23 L430 189.25"/><path d="M270.59 224.15 L270.66 223.48 L270.73 222.83 L270.81 222.19 L270.89 221.56 L270.97 220.95 L271.05 220.35 L271.14 219.76 L271.24 219.18 L271.33 218.62 L271.44 218.07 L271.54 217.53 L271.65 217 L271.77 216.48 L271.89 215.97 L272.01 215.48 L272.14 214.99 L272.28 214.51 L272.42 214.05 L272.57 213.59 L272.73 213.15 L272.89 212.71 L273.06 212.28 L273.24 211.86 L273.42 211.46 L273.61 211.05 L273.81 210.66 L274.02 210.28 L274.24 209.9 L274.47 209.53 L274.71 209.17 L274.95 208.82 L275.21 208.47 L275.48 208.14 L275.76 207.8 L276.06 207.48 L276.37 207.16 L276.69 206.85 L277.02 206.55 L277.37 206.25 L277.73 205.96 L278.11 205.67 L278.51 205.39 L278.92 205.12 L279.35 204.85 L279.8 204.59 L280.27 204.33 L280.76 204.08 L281.27 203.84 L281.81 203.6 L284.83 202.47 L287.86 201.63 L290.88 200.97 L293.91 200.43 L296.93 199.99 L299.95 199.61 L302.98 199.28 L306 198.99 L309.03 198.74 L312.05 198.51 L315.07 198.31 L318.1 198.12 L321.12 197.96 L324.15 197.8 L327.17 197.66 L330.2 197.53 L333.22 197.41 L336.24 197.29 L339.27 197.19 L342.29 197.09 L345.32 196.99 L348.34 196.9 L351.37 196.82 L354.39 196.74 L357.41 196.67 L360.44 196.6 L363.46 196.53 L366.49 196.46 L369.51 196.4 L372.54 196.34 L375.56 196.29 L378.58 196.23 L381.61 196.18 L384.63 196.13 L387.66 196.08 L390.68 196.04 L393.71 195.99 L396.73 195.95 L399.75 195.91 L402.78 195.87 L405.8 195.83 L408.83 195.8 L411.85 195.76 L414.88 195.72 L417.9 195.69 L420.92 195.66 L423.95 195.63 L426.97 195.59 L430 195.56"/></g>
<g fill="#000"><circle cx="269" cy="151.8" r="1.4"/><circle cx="291.1" cy="151.5" r="1.4"/><circle cx="291.1" cy="158" r="1.4"/><circle cx="275.6" cy="158.9" r="1.4"/><circle cx="298.5" cy="161" r="1.4"/><circle cx="303.9" cy="163.4" r="1.4"/><circle cx="314.9" cy="156.4" r="1.4"/><circle cx="324.8" cy="157.2" r="1.4"/><circle cx="331.9" cy="155.8" r="1.4"/><circle cx="336.8" cy="156.9" r="1.4"/><circle cx="339.2" cy="154.4" r="1.4"/><circle cx="338.6" cy="165.5" r="1.4"/><circle cx="277.5" cy="170.8" r="1.4"/><circle cx="297.4" cy="170.3" r="1.4"/><circle cx="300.2" cy="169.8" r="1.4"/><circle cx="302.3" cy="172.5" r="1.4"/><circle cx="289.8" cy="178.2" r="1.4"/><circle cx="298.5" cy="178" r="1.4"/><circle cx="293.6" cy="181.5" r="1.4"/><circle cx="310.8" cy="182.6" r="1.4"/><circle cx="302.3" cy="186.7" r="1.4"/><circle cx="316.9" cy="189.7" r="1.4"/><circle cx="310.5" cy="192.5" r="1.4"/><circle cx="321.5" cy="193.3" r="1.4"/><circle cx="325.6" cy="191.3" r="1.4"/><circle cx="330.5" cy="191.3" r="1.4"/><circle cx="331.3" cy="190" r="1.4"/><circle cx="322" cy="197" r="1.4"/><circle cx="308.9" cy="197.7" r="1.4"/><circle cx="312.1" cy="205.6" r="1.4"/><circle cx="334.6" cy="210.2" r="1.4"/><circle cx="339.8" cy="209.3" r="1.4"/><circle cx="273.4" cy="213.4" r="1.4"/><circle cx="275.9" cy="217" r="1.4"/><circle cx="323.1" cy="219" r="1.4"/><circle cx="328" cy="220.3" r="1.4"/><circle cx="283.4" cy="222.3" r="1.4"/><circle cx="345.6" cy="159.2" r="1.4"/><circle cx="359" cy="175.7" r="1.4"/><circle cx="360.3" cy="185.1" r="1.4"/><circle cx="362.5" cy="185.9" r="1.4"/><circle cx="364.8" cy="183.8" r="1.4"/><circle cx="372.3" cy="179.3" r="1.4"/><circle cx="388.3" cy="177.6" r="1.4"/><circle cx="381.6" cy="188.6" r="1.4"/><circle cx="359" cy="193.3" r="1.4"/><circle cx="364.1" cy="192.8" r="1.4"/><circle cx="347.2" cy="197.7" r="1.4"/><circle cx="383.3" cy="203.4" r="1.4"/><circle cx="373.9" cy="206.2" r="1.4"/><circle cx="347.5" cy="216.2" r="1.4"/><circle cx="388.9" cy="219.5" r="1.4"/><circle cx="399.3" cy="219" r="1.4"/><circle cx="430.5" cy="202" r="1.4"/><circle cx="272.8" cy="223.9" r="1.4"/><circle cx="273.9" cy="223.9" r="1.4"/><circle cx="292.5" cy="223.9" r="1.4"/><circle cx="311.6" cy="223.9" r="1.4"/><circle cx="313.3" cy="223.9" r="1.4"/><circle cx="314.9" cy="223.9" r="1.4"/><circle cx="319.3" cy="223.9" r="1.4"/><circle cx="353.3" cy="223.9" r="1.4"/><circle cx="355.9" cy="223.9" r="1.4"/><circle cx="365.7" cy="223.9" r="1.4"/><circle cx="368.9" cy="223.9" r="1.4"/></g>
<clipPath id="ce2016"><rect x="22.4" y="281.9" width="200.2" height="93.3"/></clipPath>
<path d="M22.4 281.9V375.2H222.6" fill="none" stroke="#222222" stroke-width="0.9"/>
<line x1="19.7" y1="371.3" x2="22.4" y2="371.3" stroke="#333333" stroke-width="0.6"/>
<text x="18.4" y="374.46" font-size="7.7" fill="#4d4d4d" text-anchor="end">0</text>
<line x1="19.7" y1="342.8" x2="22.4" y2="342.8" stroke="#333333" stroke-width="0.6"/>
<text x="18.4" y="345.96" font-size="7.7" fill="#4d4d4d" text-anchor="end">1</text>
<line x1="19.7" y1="314.3" x2="22.4" y2="314.3" stroke="#333333" stroke-width="0.6"/>
<text x="18.4" y="317.46" font-size="7.7" fill="#4d4d4d" text-anchor="end">2</text>
<line x1="19.7" y1="285.8" x2="22.4" y2="285.8" stroke="#333333" stroke-width="0.6"/>
<text x="18.4" y="288.96" font-size="7.7" fill="#4d4d4d" text-anchor="end">3</text>
<line x1="31.7" y1="375.2" x2="31.7" y2="377.9" stroke="#333333" stroke-width="0.6"/>
<text x="31.7" y="385.4" font-size="7.7" fill="#4d4d4d" text-anchor="middle">0</text>
<line x1="72.15" y1="375.2" x2="72.15" y2="377.9" stroke="#333333" stroke-width="0.6"/>
<text x="72.15" y="385.4" font-size="7.7" fill="#4d4d4d" text-anchor="middle">10</text>
<line x1="112.6" y1="375.2" x2="112.6" y2="377.9" stroke="#333333" stroke-width="0.6"/>
<text x="112.6" y="385.4" font-size="7.7" fill="#4d4d4d" text-anchor="middle">20</text>
<line x1="153.05" y1="375.2" x2="153.05" y2="377.9" stroke="#333333" stroke-width="0.6"/>
<text x="153.05" y="385.4" font-size="7.7" fill="#4d4d4d" text-anchor="middle">30</text>
<line x1="193.5" y1="375.2" x2="193.5" y2="377.9" stroke="#333333" stroke-width="0.6"/>
<text x="193.5" y="385.4" font-size="7.7" fill="#4d4d4d" text-anchor="middle">40</text>
<text x="122.5" y="397" font-size="9.66" text-anchor="middle">Number of expected events</text>
<text transform="translate(9,328.55) rotate(-90)" font-size="9.66" text-anchor="middle">Observed / predicted</text>
<text x="22.8" y="275" font-size="11.5">2016</text>
<line x1="22.4" y1="342.8" x2="220.6" y2="342.8" stroke="#333" stroke-width="1.05" stroke-dasharray="3.7 3.0"/>
<g clip-path="url(#ce2016)" fill="none" stroke="#000" stroke-width="0.85"><path d="M35.34 237.15 L35.49 240.32 L35.65 243.42 L35.81 246.47 L35.99 249.45 L36.16 252.37 L36.35 255.23 L36.54 258.01 L36.75 260.72 L36.96 263.37 L37.18 265.94 L37.4 268.44 L37.64 270.86 L37.89 273.21 L38.15 275.48 L38.41 277.67 L38.69 279.79 L38.99 281.84 L39.29 283.81 L39.61 285.7 L39.93 287.52 L40.28 289.26 L40.64 290.93 L41.01 292.54 L41.4 294.07 L41.8 295.54 L42.22 296.94 L42.66 298.29 L43.11 299.57 L43.59 300.8 L44.09 301.97 L44.6 303.09 L45.14 304.17 L45.7 305.19 L46.28 306.18 L46.89 307.13 L47.52 308.04 L48.18 308.91 L48.87 309.75 L49.58 310.56 L50.33 311.34 L51.1 312.1 L51.91 312.83 L52.75 313.54 L53.63 314.23 L54.54 314.9 L55.5 315.55 L56.49 316.18 L57.52 316.79 L58.59 317.39 L59.72 317.98 L60.88 318.54 L62.1 319.1 L63.36 319.64 L64.68 320.16 L66.06 320.68 L67.49 321.18 L68.98 321.67 L70.53 322.14 L72.15 322.61 L73.04 322.85 L73.93 323.09 L74.82 323.32 L75.72 323.54 L76.61 323.75 L77.5 323.96 L78.39 324.16 L79.28 324.35 L80.17 324.54 L81.06 324.72 L81.95 324.9 L82.85 325.08 L83.74 325.24 L84.63 325.41 L85.52 325.57 L86.41 325.72 L87.3 325.88 L88.19 326.02 L89.08 326.17 L89.98 326.31 L90.87 326.44 L91.76 326.58 L92.65 326.71 L93.54 326.84 L94.43 326.96 L95.32 327.08 L96.21 327.2 L97.11 327.32 L98 327.44 L98.89 327.55 L99.78 327.66 L100.67 327.76 L101.56 327.87 L102.45 327.97 L103.34 328.07 L104.24 328.17 L105.13 328.27 L106.02 328.37 L106.91 328.46 L107.8 328.55 L108.69 328.64 L109.58 328.73 L110.47 328.82 L111.37 328.9 L112.26 328.99 L113.15 329.07 L114.04 329.15 L114.93 329.23 L115.82 329.31 L116.71 329.39 L117.6 329.46 L118.5 329.54 L119.39 329.61 L120.28 329.68 L121.17 329.75 L122.06 329.82 L122.95 329.89 L123.84 329.96 L124.73 330.03"/><path d="M31.9 375.8 L35.34 370.79 L35.49 370.72 L35.65 370.63 L35.81 370.54 L35.99 370.44 L36.16 370.33 L36.35 370.21 L36.54 370.09 L36.75 369.95 L36.96 369.81 L37.18 369.66 L37.4 369.5 L37.64 369.34 L37.89 369.16 L38.15 368.98 L38.41 368.8 L38.69 368.6 L38.99 368.4 L39.29 368.19 L39.61 367.97 L39.93 367.75 L40.28 367.53 L40.64 367.29 L41.01 367.06 L41.4 366.82 L41.8 366.57 L42.22 366.32 L42.66 366.07 L43.11 365.81 L43.59 365.55 L44.09 365.29 L44.6 365.03 L45.14 364.76 L45.7 364.49 L46.28 364.23 L46.89 363.95 L47.52 363.68 L48.18 363.41 L48.87 363.14 L49.58 362.87 L50.33 362.59 L51.1 362.32 L51.91 362.05 L52.75 361.78 L53.63 361.51 L54.54 361.24 L55.5 360.97 L56.49 360.7 L57.52 360.44 L58.59 360.17 L59.72 359.91 L60.88 359.65 L62.1 359.39 L63.36 359.13 L64.68 358.88 L66.06 358.62 L67.49 358.37 L68.98 358.12 L70.53 357.88 L72.15 357.63 L73.04 357.5 L73.93 357.38 L74.82 357.26 L75.72 357.14 L76.61 357.02 L77.5 356.91 L78.39 356.8 L79.28 356.69 L80.17 356.58 L81.06 356.48 L81.95 356.38 L82.85 356.28 L83.74 356.18 L84.63 356.09 L85.52 356 L86.41 355.91 L87.3 355.82 L88.19 355.73 L89.08 355.65 L89.98 355.56 L90.87 355.48 L91.76 355.4 L92.65 355.32 L93.54 355.25 L94.43 355.17 L95.32 355.1 L96.21 355.03 L97.11 354.96 L98 354.89 L98.89 354.82 L99.78 354.75 L100.67 354.68 L101.56 354.62 L102.45 354.55 L103.34 354.49 L104.24 354.43 L105.13 354.37 L106.02 354.31 L106.91 354.25 L107.8 354.19 L108.69 354.13 L109.58 354.08 L110.47 354.02 L111.37 353.97 L112.26 353.91 L113.15 353.86 L114.04 353.81 L114.93 353.76 L115.82 353.7 L116.71 353.65 L117.6 353.6 L118.5 353.56 L119.39 353.51 L120.28 353.46 L121.17 353.41 L122.06 353.37 L122.95 353.32 L123.84 353.28 L124.73 353.23"/></g>
<g fill="#000"><circle cx="40.7" cy="319.5" r="1.55"/><circle cx="34.8" cy="334.9" r="1.55"/><circle cx="43.9" cy="333.1" r="1.55"/><circle cx="53.4" cy="334.3" r="1.55"/><circle cx="39.4" cy="341.4" r="1.55"/><circle cx="41.6" cy="347.5" r="1.55"/><circle cx="37.4" cy="350.6" r="1.55"/><circle cx="48.7" cy="350.8" r="1.55"/><circle cx="62" cy="355.8" r="1.55"/><circle cx="57.3" cy="362.1" r="1.55"/><circle cx="44.5" cy="362.1" r="1.55"/><circle cx="31.6" cy="371.2" r="1.55"/><circle cx="32.6" cy="371.2" r="1.55"/><circle cx="37.4" cy="371.2" r="1.55"/><circle cx="42.5" cy="371.2" r="1.55"/><circle cx="78.5" cy="319.2" r="1.55"/><circle cx="72.9" cy="323.8" r="1.55"/><circle cx="77.3" cy="325.7" r="1.55"/><circle cx="82.6" cy="328.3" r="1.55"/><circle cx="81.4" cy="331.7" r="1.55"/><circle cx="82.4" cy="337.2" r="1.55"/><circle cx="68.6" cy="339.9" r="1.55"/><circle cx="76.7" cy="340.4" r="1.55"/><circle cx="71.2" cy="344.9" r="1.55"/><circle cx="73.5" cy="344.3" r="1.55"/><circle cx="76.1" cy="345.3" r="1.55"/><circle cx="92.5" cy="340.8" r="1.55"/><circle cx="107.4" cy="330.3" r="1.55"/><circle cx="124.4" cy="336.3" r="1.55"/></g>
<clipPath id="ce2017"><rect x="252.6" y="281.9" width="200.2" height="93.3"/></clipPath>
<path d="M252.6 281.9V375.2H452.8" fill="none" stroke="#222222" stroke-width="0.9"/>
<line x1="249.9" y1="371.3" x2="252.6" y2="371.3" stroke="#333333" stroke-width="0.6"/>
<text x="248.6" y="374.46" font-size="7.7" fill="#4d4d4d" text-anchor="end">0</text>
<line x1="249.9" y1="342.8" x2="252.6" y2="342.8" stroke="#333333" stroke-width="0.6"/>
<text x="248.6" y="345.96" font-size="7.7" fill="#4d4d4d" text-anchor="end">1</text>
<line x1="249.9" y1="314.3" x2="252.6" y2="314.3" stroke="#333333" stroke-width="0.6"/>
<text x="248.6" y="317.46" font-size="7.7" fill="#4d4d4d" text-anchor="end">2</text>
<line x1="249.9" y1="285.8" x2="252.6" y2="285.8" stroke="#333333" stroke-width="0.6"/>
<text x="248.6" y="288.96" font-size="7.7" fill="#4d4d4d" text-anchor="end">3</text>
<line x1="261.9" y1="375.2" x2="261.9" y2="377.9" stroke="#333333" stroke-width="0.6"/>
<text x="261.9" y="385.4" font-size="7.7" fill="#4d4d4d" text-anchor="middle">0</text>
<line x1="302.35" y1="375.2" x2="302.35" y2="377.9" stroke="#333333" stroke-width="0.6"/>
<text x="302.35" y="385.4" font-size="7.7" fill="#4d4d4d" text-anchor="middle">10</text>
<line x1="342.8" y1="375.2" x2="342.8" y2="377.9" stroke="#333333" stroke-width="0.6"/>
<text x="342.8" y="385.4" font-size="7.7" fill="#4d4d4d" text-anchor="middle">20</text>
<line x1="383.25" y1="375.2" x2="383.25" y2="377.9" stroke="#333333" stroke-width="0.6"/>
<text x="383.25" y="385.4" font-size="7.7" fill="#4d4d4d" text-anchor="middle">30</text>
<line x1="423.7" y1="375.2" x2="423.7" y2="377.9" stroke="#333333" stroke-width="0.6"/>
<text x="423.7" y="385.4" font-size="7.7" fill="#4d4d4d" text-anchor="middle">40</text>
<text x="352.7" y="397" font-size="9.66" text-anchor="middle">Number of expected events</text>
<text transform="translate(239.2,328.55) rotate(-90)" font-size="9.66" text-anchor="middle">Observed / predicted</text>
<text x="253" y="275" font-size="11.5">2017</text>
<line x1="252.6" y1="342.8" x2="450.8" y2="342.8" stroke="#333" stroke-width="1.05" stroke-dasharray="3.7 3.0"/>
<g clip-path="url(#ce2017)" fill="none" stroke="#000" stroke-width="0.85"><path d="M265.54 237.15 L265.69 240.32 L265.85 243.42 L266.01 246.47 L266.19 249.45 L266.36 252.37 L266.55 255.23 L266.74 258.01 L266.95 260.72 L267.16 263.37 L267.38 265.94 L267.6 268.44 L267.84 270.86 L268.09 273.21 L268.35 275.48 L268.61 277.67 L268.89 279.79 L269.19 281.84 L269.49 283.81 L269.81 285.7 L270.13 287.52 L270.48 289.26 L270.84 290.93 L271.21 292.54 L271.6 294.07 L272 295.54 L272.42 296.94 L272.86 298.29 L273.31 299.57 L273.79 300.8 L274.29 301.97 L274.8 303.09 L275.34 304.17 L275.9 305.19 L276.48 306.18 L277.09 307.13 L277.72 308.04 L278.38 308.91 L279.07 309.75 L279.78 310.56 L280.53 311.34 L281.3 312.1 L282.11 312.83 L282.95 313.54 L283.83 314.23 L284.74 314.9 L285.7 315.55 L286.69 316.18 L287.72 316.79 L288.79 317.39 L289.92 317.98 L291.08 318.54 L292.3 319.1 L293.56 319.64 L294.88 320.16 L296.26 320.68 L297.69 321.18 L299.18 321.67 L300.73 322.14 L302.35 322.61 L304.7 323.23 L307.05 323.81 L309.4 324.34 L311.76 324.82 L314.11 325.28 L316.46 325.7 L318.81 326.09 L321.16 326.46 L323.51 326.81 L325.87 327.13 L328.22 327.44 L330.57 327.73 L332.92 328 L335.27 328.27 L337.62 328.51 L339.98 328.75 L342.33 328.97 L344.68 329.19 L347.03 329.4 L349.38 329.59 L351.73 329.78 L354.08 329.96 L356.44 330.14 L358.79 330.3 L361.14 330.47 L363.49 330.62 L365.84 330.77 L368.19 330.91 L370.55 331.05 L372.9 331.19 L375.25 331.32 L377.6 331.45 L379.95 331.57 L382.3 331.69 L384.66 331.8 L387.01 331.91 L389.36 332.02 L391.71 332.13 L394.06 332.23 L396.41 332.33 L398.76 332.43 L401.12 332.52 L403.47 332.61 L405.82 332.7 L408.17 332.79 L410.52 332.87 L412.87 332.96 L415.23 333.04 L417.58 333.12 L419.93 333.19 L422.28 333.27 L424.63 333.34 L426.98 333.41 L429.34 333.49 L431.69 333.55 L434.04 333.62 L436.39 333.69 L438.74 333.75 L441.09 333.82"/><path d="M262.1 375.8 L265.54 370.79 L265.69 370.72 L265.85 370.63 L266.01 370.54 L266.19 370.44 L266.36 370.33 L266.55 370.21 L266.74 370.09 L266.95 369.95 L267.16 369.81 L267.38 369.66 L267.6 369.5 L267.84 369.34 L268.09 369.16 L268.35 368.98 L268.61 368.8 L268.89 368.6 L269.19 368.4 L269.49 368.19 L269.81 367.97 L270.13 367.75 L270.48 367.53 L270.84 367.29 L271.21 367.06 L271.6 366.82 L272 366.57 L272.42 366.32 L272.86 366.07 L273.31 365.81 L273.79 365.55 L274.29 365.29 L274.8 365.03 L275.34 364.76 L275.9 364.49 L276.48 364.23 L277.09 363.95 L277.72 363.68 L278.38 363.41 L279.07 363.14 L279.78 362.87 L280.53 362.59 L281.3 362.32 L282.11 362.05 L282.95 361.78 L283.83 361.51 L284.74 361.24 L285.7 360.97 L286.69 360.7 L287.72 360.44 L288.79 360.17 L289.92 359.91 L291.08 359.65 L292.3 359.39 L293.56 359.13 L294.88 358.88 L296.26 358.62 L297.69 358.37 L299.18 358.12 L300.73 357.88 L302.35 357.63 L304.7 357.3 L307.05 356.99 L309.4 356.7 L311.76 356.42 L314.11 356.16 L316.46 355.92 L318.81 355.69 L321.16 355.47 L323.51 355.27 L325.87 355.07 L328.22 354.88 L330.57 354.7 L332.92 354.53 L335.27 354.37 L337.62 354.21 L339.98 354.06 L342.33 353.92 L344.68 353.78 L347.03 353.65 L349.38 353.52 L351.73 353.4 L354.08 353.28 L356.44 353.16 L358.79 353.05 L361.14 352.94 L363.49 352.84 L365.84 352.73 L368.19 352.64 L370.55 352.54 L372.9 352.45 L375.25 352.36 L377.6 352.27 L379.95 352.19 L382.3 352.1 L384.66 352.02 L387.01 351.95 L389.36 351.87 L391.71 351.79 L394.06 351.72 L396.41 351.65 L398.76 351.58 L401.12 351.51 L403.47 351.45 L405.82 351.38 L408.17 351.32 L410.52 351.26 L412.87 351.2 L415.23 351.14 L417.58 351.08 L419.93 351.03 L422.28 350.97 L424.63 350.92 L426.98 350.86 L429.34 350.81 L431.69 350.76 L434.04 350.71 L436.39 350.66 L438.74 350.61 L441.09 350.57"/></g>
<g fill="#000"><circle cx="264.7" cy="328.6" r="1.55"/><circle cx="283.4" cy="323" r="1.55"/><circle cx="290.5" cy="326.9" r="1.55"/><circle cx="291.1" cy="331.9" r="1.55"/><circle cx="293.5" cy="331.9" r="1.55"/><circle cx="311" cy="319.2" r="1.55"/><circle cx="285.2" cy="336" r="1.55"/><circle cx="275.7" cy="338.2" r="1.55"/><circle cx="280.4" cy="339.6" r="1.55"/><circle cx="284.3" cy="340.8" r="1.55"/><circle cx="266.2" cy="343.3" r="1.55"/><circle cx="278.4" cy="343.1" r="1.55"/><circle cx="275.4" cy="345.3" r="1.55"/><circle cx="271.6" cy="347.3" r="1.55"/><circle cx="273.3" cy="351.4" r="1.55"/><circle cx="286.1" cy="347.5" r="1.55"/><circle cx="292.6" cy="344.9" r="1.55"/><circle cx="295.5" cy="343.7" r="1.55"/><circle cx="294.4" cy="350.2" r="1.55"/><circle cx="289.3" cy="354.4" r="1.55"/><circle cx="298.8" cy="336.6" r="1.55"/><circle cx="302.3" cy="334.5" r="1.55"/><circle cx="305" cy="333.4" r="1.55"/><circle cx="309.4" cy="342.2" r="1.55"/><circle cx="302.9" cy="345.9" r="1.55"/><circle cx="305.3" cy="347.5" r="1.55"/><circle cx="302.3" cy="351.2" r="1.55"/><circle cx="262.6" cy="371.2" r="1.55"/><circle cx="264.5" cy="371.2" r="1.55"/><circle cx="332.5" cy="318.9" r="1.55"/><circle cx="328.1" cy="332.8" r="1.55"/><circle cx="329.6" cy="332" r="1.55"/><circle cx="326.9" cy="341" r="1.55"/><circle cx="328.7" cy="341.7" r="1.55"/><circle cx="330.4" cy="339" r="1.55"/><circle cx="318.6" cy="346.9" r="1.55"/><circle cx="330.4" cy="347.6" r="1.55"/><circle cx="342.6" cy="338.4" r="1.55"/><circle cx="345.2" cy="339.2" r="1.55"/><circle cx="339.9" cy="344.6" r="1.55"/><circle cx="340.9" cy="349.3" r="1.55"/><circle cx="355.5" cy="344" r="1.55"/><circle cx="361" cy="342.2" r="1.55"/><circle cx="353.5" cy="356" r="1.55"/><circle cx="365" cy="349.9" r="1.55"/><circle cx="366.7" cy="342.4" r="1.55"/><circle cx="381.7" cy="342.4" r="1.55"/><circle cx="382" cy="343.6" r="1.55"/><circle cx="385.2" cy="335.5" r="1.55"/><circle cx="392.5" cy="339.5" r="1.55"/><circle cx="400.3" cy="341.8" r="1.55"/><circle cx="406.5" cy="355.3" r="1.55"/><circle cx="440.7" cy="349.7" r="1.55"/></g>
<clipPath id="ce2018"><rect x="482.8" y="281.9" width="200.2" height="93.3"/></clipPath>
<path d="M482.8 281.9V375.2H683" fill="none" stroke="#222222" stroke-width="0.9"/>
<line x1="480.1" y1="371.3" x2="482.8" y2="371.3" stroke="#333333" stroke-width="0.6"/>
<text x="478.8" y="374.46" font-size="7.7" fill="#4d4d4d" text-anchor="end">0</text>
<line x1="480.1" y1="342.8" x2="482.8" y2="342.8" stroke="#333333" stroke-width="0.6"/>
<text x="478.8" y="345.96" font-size="7.7" fill="#4d4d4d" text-anchor="end">1</text>
<line x1="480.1" y1="314.3" x2="482.8" y2="314.3" stroke="#333333" stroke-width="0.6"/>
<text x="478.8" y="317.46" font-size="7.7" fill="#4d4d4d" text-anchor="end">2</text>
<line x1="480.1" y1="285.8" x2="482.8" y2="285.8" stroke="#333333" stroke-width="0.6"/>
<text x="478.8" y="288.96" font-size="7.7" fill="#4d4d4d" text-anchor="end">3</text>
<line x1="492.1" y1="375.2" x2="492.1" y2="377.9" stroke="#333333" stroke-width="0.6"/>
<text x="492.1" y="385.4" font-size="7.7" fill="#4d4d4d" text-anchor="middle">0</text>
<line x1="532.55" y1="375.2" x2="532.55" y2="377.9" stroke="#333333" stroke-width="0.6"/>
<text x="532.55" y="385.4" font-size="7.7" fill="#4d4d4d" text-anchor="middle">10</text>
<line x1="573" y1="375.2" x2="573" y2="377.9" stroke="#333333" stroke-width="0.6"/>
<text x="573" y="385.4" font-size="7.7" fill="#4d4d4d" text-anchor="middle">20</text>
<line x1="613.45" y1="375.2" x2="613.45" y2="377.9" stroke="#333333" stroke-width="0.6"/>
<text x="613.45" y="385.4" font-size="7.7" fill="#4d4d4d" text-anchor="middle">30</text>
<line x1="653.9" y1="375.2" x2="653.9" y2="377.9" stroke="#333333" stroke-width="0.6"/>
<text x="653.9" y="385.4" font-size="7.7" fill="#4d4d4d" text-anchor="middle">40</text>
<text x="582.9" y="397" font-size="9.66" text-anchor="middle">Number of expected events</text>
<text transform="translate(469.4,328.55) rotate(-90)" font-size="9.66" text-anchor="middle">Observed / predicted</text>
<text x="483.2" y="275" font-size="11.5">2018</text>
<line x1="482.8" y1="342.8" x2="681" y2="342.8" stroke="#333" stroke-width="1.05" stroke-dasharray="3.7 3.0"/>
<g clip-path="url(#ce2018)" fill="none" stroke="#000" stroke-width="0.85"><path d="M495.74 237.15 L495.89 240.32 L496.05 243.42 L496.21 246.47 L496.39 249.45 L496.56 252.37 L496.75 255.23 L496.94 258.01 L497.15 260.72 L497.36 263.37 L497.58 265.94 L497.8 268.44 L498.04 270.86 L498.29 273.21 L498.55 275.48 L498.81 277.67 L499.09 279.79 L499.39 281.84 L499.69 283.81 L500.01 285.7 L500.33 287.52 L500.68 289.26 L501.04 290.93 L501.41 292.54 L501.8 294.07 L502.2 295.54 L502.62 296.94 L503.06 298.29 L503.51 299.57 L503.99 300.8 L504.49 301.97 L505 303.09 L505.54 304.17 L506.1 305.19 L506.68 306.18 L507.29 307.13 L507.92 308.04 L508.58 308.91 L509.27 309.75 L509.98 310.56 L510.73 311.34 L511.5 312.1 L512.31 312.83 L513.15 313.54 L514.03 314.23 L514.94 314.9 L515.9 315.55 L516.89 316.18 L517.92 316.79 L518.99 317.39 L520.12 317.98 L521.28 318.54 L522.5 319.1 L523.76 319.64 L525.08 320.16 L526.46 320.68 L527.89 321.18 L529.38 321.67 L530.93 322.14 L532.55 322.61 L534.61 323.16 L536.68 323.67 L538.74 324.15 L540.8 324.59 L542.87 325 L544.93 325.39 L547 325.76 L549.06 326.1 L551.12 326.42 L553.19 326.73 L555.25 327.02 L557.31 327.3 L559.38 327.56 L561.44 327.81 L563.5 328.05 L565.57 328.28 L567.63 328.49 L569.7 328.7 L571.76 328.9 L573.82 329.09 L575.89 329.28 L577.95 329.46 L580.01 329.63 L582.08 329.79 L584.14 329.95 L586.2 330.11 L588.27 330.25 L590.33 330.4 L592.4 330.54 L594.46 330.67 L596.52 330.8 L598.59 330.93 L600.65 331.05 L602.71 331.17 L604.78 331.28 L606.84 331.4 L608.9 331.5 L610.97 331.61 L613.03 331.71 L615.1 331.81 L617.16 331.91 L619.22 332.01 L621.29 332.1 L623.35 332.19 L625.41 332.28 L627.48 332.36 L629.54 332.45 L631.6 332.53 L633.67 332.61 L635.73 332.69 L637.8 332.77 L639.86 332.84 L641.92 332.92 L643.99 332.99 L646.05 333.06 L648.11 333.13 L650.18 333.2 L652.24 333.26 L654.3 333.33"/><path d="M492.3 375.8 L495.74 370.79 L495.89 370.72 L496.05 370.63 L496.21 370.54 L496.39 370.44 L496.56 370.33 L496.75 370.21 L496.94 370.09 L497.15 369.95 L497.36 369.81 L497.58 369.66 L497.8 369.5 L498.04 369.34 L498.29 369.16 L498.55 368.98 L498.81 368.8 L499.09 368.6 L499.39 368.4 L499.69 368.19 L500.01 367.97 L500.33 367.75 L500.68 367.53 L501.04 367.29 L501.41 367.06 L501.8 366.82 L502.2 366.57 L502.62 366.32 L503.06 366.07 L503.51 365.81 L503.99 365.55 L504.49 365.29 L505 365.03 L505.54 364.76 L506.1 364.49 L506.68 364.23 L507.29 363.95 L507.92 363.68 L508.58 363.41 L509.27 363.14 L509.98 362.87 L510.73 362.59 L511.5 362.32 L512.31 362.05 L513.15 361.78 L514.03 361.51 L514.94 361.24 L515.9 360.97 L516.89 360.7 L517.92 360.44 L518.99 360.17 L520.12 359.91 L521.28 359.65 L522.5 359.39 L523.76 359.13 L525.08 358.88 L526.46 358.62 L527.89 358.37 L529.38 358.12 L530.93 357.88 L532.55 357.63 L534.61 357.34 L536.68 357.06 L538.74 356.8 L540.8 356.55 L542.87 356.32 L544.93 356.1 L547 355.89 L549.06 355.69 L551.12 355.5 L553.19 355.31 L555.25 355.14 L557.31 354.97 L559.38 354.81 L561.44 354.66 L563.5 354.51 L565.57 354.36 L567.63 354.23 L569.7 354.09 L571.76 353.97 L573.82 353.84 L575.89 353.72 L577.95 353.61 L580.01 353.5 L582.08 353.39 L584.14 353.28 L586.2 353.18 L588.27 353.08 L590.33 352.99 L592.4 352.89 L594.46 352.8 L596.52 352.71 L598.59 352.63 L600.65 352.54 L602.71 352.46 L604.78 352.38 L606.84 352.31 L608.9 352.23 L610.97 352.16 L613.03 352.09 L615.1 352.02 L617.16 351.95 L619.22 351.88 L621.29 351.81 L623.35 351.75 L625.41 351.69 L627.48 351.63 L629.54 351.57 L631.6 351.51 L633.67 351.45 L635.73 351.39 L637.8 351.34 L639.86 351.28 L641.92 351.23 L643.99 351.18 L646.05 351.13 L648.11 351.08 L650.18 351.03 L652.24 350.98 L654.3 350.93"/></g>
<g fill="#000"><circle cx="495.1" cy="296.4" r="1.55"/><circle cx="501" cy="331.8" r="1.55"/><circle cx="518" cy="330.7" r="1.55"/><circle cx="514.5" cy="335.3" r="1.55"/><circle cx="530.6" cy="332.2" r="1.55"/><circle cx="531.6" cy="336" r="1.55"/><circle cx="529.1" cy="340" r="1.55"/><circle cx="538.6" cy="328.8" r="1.55"/><circle cx="540.1" cy="330.2" r="1.55"/><circle cx="545.3" cy="336.4" r="1.55"/><circle cx="547" cy="335.4" r="1.55"/><circle cx="504.8" cy="343.8" r="1.55"/><circle cx="506.5" cy="346.8" r="1.55"/><circle cx="518.5" cy="344.8" r="1.55"/><circle cx="530.6" cy="347" r="1.55"/><circle cx="537.6" cy="343.2" r="1.55"/><circle cx="540.6" cy="344.8" r="1.55"/><circle cx="540.6" cy="349.7" r="1.55"/><circle cx="544.6" cy="351.5" r="1.55"/><circle cx="526.1" cy="351.1" r="1.55"/><circle cx="511.5" cy="353.4" r="1.55"/><circle cx="514.8" cy="355.9" r="1.55"/><circle cx="521.1" cy="355.1" r="1.55"/><circle cx="528.9" cy="355.4" r="1.55"/><circle cx="538.3" cy="353.6" r="1.55"/><circle cx="540.6" cy="356.8" r="1.55"/><circle cx="500.5" cy="357.3" r="1.55"/><circle cx="510.5" cy="358.4" r="1.55"/><circle cx="492" cy="371.1" r="1.55"/><circle cx="494.5" cy="371.1" r="1.55"/><circle cx="506" cy="371.1" r="1.55"/><circle cx="552.8" cy="334.9" r="1.55"/><circle cx="558.7" cy="338.2" r="1.55"/><circle cx="563.7" cy="332.2" r="1.55"/><circle cx="570.8" cy="325.6" r="1.55"/><circle cx="574.9" cy="322.2" r="1.55"/><circle cx="576.3" cy="335.4" r="1.55"/><circle cx="584.4" cy="332.5" r="1.55"/><circle cx="597.7" cy="331.5" r="1.55"/><circle cx="557.2" cy="342.5" r="1.55"/><circle cx="581.7" cy="342.9" r="1.55"/><circle cx="561.3" cy="351.2" r="1.55"/><circle cx="561.1" cy="354.4" r="1.55"/><circle cx="569.8" cy="350.5" r="1.55"/><circle cx="581.4" cy="353.2" r="1.55"/><circle cx="589.1" cy="352" r="1.55"/><circle cx="603.2" cy="340.1" r="1.55"/><circle cx="618.7" cy="337.5" r="1.55"/><circle cx="624" cy="338" r="1.55"/><circle cx="625.8" cy="341.5" r="1.55"/><circle cx="631.3" cy="341.5" r="1.55"/><circle cx="609" cy="347.4" r="1.55"/><circle cx="621.9" cy="347.2" r="1.55"/><circle cx="637.9" cy="353" r="1.55"/><circle cx="651.7" cy="331.5" r="1.55"/><circle cx="653.5" cy="345" r="1.55"/></g>
<clipPath id="ce2019"><rect x="22.4" y="430.1" width="200.2" height="93.3"/></clipPath>
<path d="M22.4 430.1V523.4H222.6" fill="none" stroke="#222222" stroke-width="0.9"/>
<line x1="19.7" y1="519.5" x2="22.4" y2="519.5" stroke="#333333" stroke-width="0.6"/>
<text x="18.4" y="522.66" font-size="7.7" fill="#4d4d4d" text-anchor="end">0</text>
<line x1="19.7" y1="491" x2="22.4" y2="491" stroke="#333333" stroke-width="0.6"/>
<text x="18.4" y="494.16" font-size="7.7" fill="#4d4d4d" text-anchor="end">1</text>
<line x1="19.7" y1="462.5" x2="22.4" y2="462.5" stroke="#333333" stroke-width="0.6"/>
<text x="18.4" y="465.66" font-size="7.7" fill="#4d4d4d" text-anchor="end">2</text>
<line x1="19.7" y1="434" x2="22.4" y2="434" stroke="#333333" stroke-width="0.6"/>
<text x="18.4" y="437.16" font-size="7.7" fill="#4d4d4d" text-anchor="end">3</text>
<line x1="31.7" y1="523.4" x2="31.7" y2="526.1" stroke="#333333" stroke-width="0.6"/>
<text x="31.7" y="533.6" font-size="7.7" fill="#4d4d4d" text-anchor="middle">0</text>
<line x1="72.15" y1="523.4" x2="72.15" y2="526.1" stroke="#333333" stroke-width="0.6"/>
<text x="72.15" y="533.6" font-size="7.7" fill="#4d4d4d" text-anchor="middle">10</text>
<line x1="112.6" y1="523.4" x2="112.6" y2="526.1" stroke="#333333" stroke-width="0.6"/>
<text x="112.6" y="533.6" font-size="7.7" fill="#4d4d4d" text-anchor="middle">20</text>
<line x1="153.05" y1="523.4" x2="153.05" y2="526.1" stroke="#333333" stroke-width="0.6"/>
<text x="153.05" y="533.6" font-size="7.7" fill="#4d4d4d" text-anchor="middle">30</text>
<line x1="193.5" y1="523.4" x2="193.5" y2="526.1" stroke="#333333" stroke-width="0.6"/>
<text x="193.5" y="533.6" font-size="7.7" fill="#4d4d4d" text-anchor="middle">40</text>
<text x="122.5" y="545.2" font-size="9.66" text-anchor="middle">Number of expected events</text>
<text transform="translate(9,476.75) rotate(-90)" font-size="9.66" text-anchor="middle">Observed / predicted</text>
<text x="22.8" y="423.6" font-size="11.5">2019</text>
<line x1="22.4" y1="491.35" x2="220.6" y2="491.35" stroke="#333" stroke-width="1.05" stroke-dasharray="3.7 3.0"/>
<g clip-path="url(#ce2019)" fill="none" stroke="#000" stroke-width="0.85"><path d="M35.34 385.35 L35.49 388.52 L35.65 391.62 L35.81 394.67 L35.99 397.65 L36.16 400.57 L36.35 403.43 L36.54 406.21 L36.75 408.92 L36.96 411.57 L37.18 414.14 L37.4 416.64 L37.64 419.06 L37.89 421.41 L38.15 423.68 L38.41 425.87 L38.69 427.99 L38.99 430.04 L39.29 432.01 L39.61 433.9 L39.93 435.72 L40.28 437.46 L40.64 439.13 L41.01 440.74 L41.4 442.27 L41.8 443.74 L42.22 445.14 L42.66 446.49 L43.11 447.77 L43.59 449 L44.09 450.17 L44.6 451.29 L45.14 452.37 L45.7 453.39 L46.28 454.38 L46.89 455.33 L47.52 456.24 L48.18 457.11 L48.87 457.95 L49.58 458.76 L50.33 459.54 L51.1 460.3 L51.91 461.03 L52.75 461.74 L53.63 462.43 L54.54 463.1 L55.5 463.75 L56.49 464.38 L57.52 464.99 L58.59 465.59 L59.72 466.18 L60.88 466.74 L62.1 467.3 L63.36 467.84 L64.68 468.36 L66.06 468.88 L67.49 469.38 L68.98 469.87 L70.53 470.34 L72.15 470.81 L74.31 471.39 L76.47 471.92 L78.63 472.41 L80.79 472.87 L82.95 473.3 L85.11 473.69 L87.27 474.07 L89.43 474.42 L91.59 474.75 L93.75 475.07 L95.91 475.36 L98.07 475.64 L100.23 475.91 L102.38 476.17 L104.54 476.41 L106.7 476.64 L108.86 476.86 L111.02 477.07 L113.18 477.27 L115.34 477.47 L117.5 477.65 L119.66 477.83 L121.82 478 L123.98 478.17 L126.14 478.33 L128.3 478.48 L130.46 478.63 L132.62 478.78 L134.78 478.92 L136.94 479.05 L139.1 479.18 L141.26 479.31 L143.42 479.43 L145.58 479.55 L147.74 479.66 L149.9 479.78 L152.06 479.88 L154.22 479.99 L156.38 480.09 L158.53 480.19 L160.69 480.29 L162.85 480.39 L165.01 480.48 L167.17 480.57 L169.33 480.66 L171.49 480.74 L173.65 480.83 L175.81 480.91 L177.97 480.99 L180.13 481.07 L182.29 481.14 L184.45 481.22 L186.61 481.29 L188.77 481.36 L190.93 481.43 L193.09 481.5 L195.25 481.57 L197.41 481.63 L199.57 481.7"/><path d="M31.9 524 L35.34 518.99 L35.49 518.92 L35.65 518.83 L35.81 518.74 L35.99 518.64 L36.16 518.53 L36.35 518.41 L36.54 518.29 L36.75 518.15 L36.96 518.01 L37.18 517.86 L37.4 517.7 L37.64 517.54 L37.89 517.36 L38.15 517.18 L38.41 517 L38.69 516.8 L38.99 516.6 L39.29 516.39 L39.61 516.17 L39.93 515.95 L40.28 515.73 L40.64 515.49 L41.01 515.26 L41.4 515.02 L41.8 514.77 L42.22 514.52 L42.66 514.27 L43.11 514.01 L43.59 513.75 L44.09 513.49 L44.6 513.23 L45.14 512.96 L45.7 512.69 L46.28 512.43 L46.89 512.15 L47.52 511.88 L48.18 511.61 L48.87 511.34 L49.58 511.07 L50.33 510.79 L51.1 510.52 L51.91 510.25 L52.75 509.98 L53.63 509.71 L54.54 509.44 L55.5 509.17 L56.49 508.9 L57.52 508.64 L58.59 508.37 L59.72 508.11 L60.88 507.85 L62.1 507.59 L63.36 507.33 L64.68 507.08 L66.06 506.82 L67.49 506.57 L68.98 506.32 L70.53 506.08 L72.15 505.83 L74.31 505.53 L76.47 505.24 L78.63 504.97 L80.79 504.71 L82.95 504.47 L85.11 504.24 L87.27 504.02 L89.43 503.82 L91.59 503.62 L93.75 503.43 L95.91 503.25 L98.07 503.08 L100.23 502.92 L102.38 502.76 L104.54 502.61 L106.7 502.46 L108.86 502.32 L111.02 502.19 L113.18 502.06 L115.34 501.93 L117.5 501.81 L119.66 501.69 L121.82 501.58 L123.98 501.47 L126.14 501.36 L128.3 501.26 L130.46 501.16 L132.62 501.07 L134.78 500.97 L136.94 500.88 L139.1 500.79 L141.26 500.7 L143.42 500.62 L145.58 500.54 L147.74 500.46 L149.9 500.38 L152.06 500.31 L154.22 500.23 L156.38 500.16 L158.53 500.09 L160.69 500.02 L162.85 499.95 L165.01 499.89 L167.17 499.82 L169.33 499.76 L171.49 499.7 L173.65 499.64 L175.81 499.58 L177.97 499.52 L180.13 499.47 L182.29 499.41 L184.45 499.36 L186.61 499.3 L188.77 499.25 L190.93 499.2 L193.09 499.15 L195.25 499.1 L197.41 499.05 L199.57 499"/></g>
<g fill="#000"><circle cx="34.4" cy="433.3" r="1.55"/><circle cx="35.2" cy="484.5" r="1.55"/><circle cx="40.3" cy="492" r="1.55"/><circle cx="59.5" cy="486" r="1.55"/><circle cx="65.8" cy="485.4" r="1.55"/><circle cx="66" cy="489.2" r="1.55"/><circle cx="71.3" cy="481.5" r="1.55"/><circle cx="77" cy="476.5" r="1.55"/><circle cx="80.8" cy="472.3" r="1.55"/><circle cx="52.4" cy="497.4" r="1.55"/><circle cx="57.2" cy="496.8" r="1.55"/><circle cx="54.9" cy="500.1" r="1.55"/><circle cx="60.4" cy="503.5" r="1.55"/><circle cx="70.4" cy="498.5" r="1.55"/><circle cx="74" cy="494.8" r="1.55"/><circle cx="78.5" cy="496.9" r="1.55"/><circle cx="79.6" cy="495.9" r="1.55"/><circle cx="79.1" cy="497.9" r="1.55"/><circle cx="42.4" cy="508.5" r="1.55"/><circle cx="62.7" cy="512" r="1.55"/><circle cx="32.1" cy="519.4" r="1.55"/><circle cx="82.6" cy="506.2" r="1.55"/><circle cx="85" cy="502" r="1.55"/><circle cx="86.7" cy="502.8" r="1.55"/><circle cx="87.3" cy="492" r="1.55"/><circle cx="88.5" cy="491" r="1.55"/><circle cx="90.2" cy="485.9" r="1.55"/><circle cx="88.5" cy="496.7" r="1.55"/><circle cx="89.7" cy="495.5" r="1.55"/><circle cx="91.6" cy="500.3" r="1.55"/><circle cx="92" cy="502.1" r="1.55"/><circle cx="97.2" cy="484.2" r="1.55"/><circle cx="97.8" cy="490.1" r="1.55"/><circle cx="103" cy="489.1" r="1.55"/><circle cx="104.8" cy="489.6" r="1.55"/><circle cx="107.4" cy="489" r="1.55"/><circle cx="102.4" cy="495.2" r="1.55"/><circle cx="108" cy="498.6" r="1.55"/><circle cx="104" cy="504.1" r="1.55"/><circle cx="104.2" cy="505.3" r="1.55"/><circle cx="118" cy="475.7" r="1.55"/><circle cx="115.4" cy="481" r="1.55"/><circle cx="117" cy="495.2" r="1.55"/><circle cx="119.3" cy="494.4" r="1.55"/><circle cx="122.2" cy="490.1" r="1.55"/><circle cx="133.8" cy="489.3" r="1.55"/><circle cx="138.5" cy="489.3" r="1.55"/><circle cx="142.5" cy="489.3" r="1.55"/><circle cx="139.7" cy="483.1" r="1.55"/><circle cx="134.4" cy="497" r="1.55"/><circle cx="149.2" cy="489.3" r="1.55"/><circle cx="149.2" cy="494.1" r="1.55"/><circle cx="161.3" cy="494" r="1.55"/><circle cx="163.4" cy="493.4" r="1.55"/><circle cx="164.7" cy="486.8" r="1.55"/><circle cx="168.6" cy="485.2" r="1.55"/><circle cx="178.4" cy="481" r="1.55"/><circle cx="173.9" cy="499.3" r="1.55"/><circle cx="180.1" cy="501" r="1.55"/><circle cx="196.2" cy="500.7" r="1.55"/><circle cx="199.4" cy="494.2" r="1.55"/></g>
<clipPath id="ce2020"><rect x="252.6" y="430.1" width="200.2" height="93.3"/></clipPath>
<path d="M252.6 430.1V523.4H452.8" fill="none" stroke="#222222" stroke-width="0.9"/>
<line x1="249.9" y1="519.5" x2="252.6" y2="519.5" stroke="#333333" stroke-width="0.6"/>
<text x="248.6" y="522.66" font-size="7.7" fill="#4d4d4d" text-anchor="end">0</text>
<line x1="249.9" y1="491" x2="252.6" y2="491" stroke="#333333" stroke-width="0.6"/>
<text x="248.6" y="494.16" font-size="7.7" fill="#4d4d4d" text-anchor="end">1</text>
<line x1="249.9" y1="462.5" x2="252.6" y2="462.5" stroke="#333333" stroke-width="0.6"/>
<text x="248.6" y="465.66" font-size="7.7" fill="#4d4d4d" text-anchor="end">2</text>
<line x1="249.9" y1="434" x2="252.6" y2="434" stroke="#333333" stroke-width="0.6"/>
<text x="248.6" y="437.16" font-size="7.7" fill="#4d4d4d" text-anchor="end">3</text>
<line x1="261.9" y1="523.4" x2="261.9" y2="526.1" stroke="#333333" stroke-width="0.6"/>
<text x="261.9" y="533.6" font-size="7.7" fill="#4d4d4d" text-anchor="middle">0</text>
<line x1="302.35" y1="523.4" x2="302.35" y2="526.1" stroke="#333333" stroke-width="0.6"/>
<text x="302.35" y="533.6" font-size="7.7" fill="#4d4d4d" text-anchor="middle">10</text>
<line x1="342.8" y1="523.4" x2="342.8" y2="526.1" stroke="#333333" stroke-width="0.6"/>
<text x="342.8" y="533.6" font-size="7.7" fill="#4d4d4d" text-anchor="middle">20</text>
<line x1="383.25" y1="523.4" x2="383.25" y2="526.1" stroke="#333333" stroke-width="0.6"/>
<text x="383.25" y="533.6" font-size="7.7" fill="#4d4d4d" text-anchor="middle">30</text>
<line x1="423.7" y1="523.4" x2="423.7" y2="526.1" stroke="#333333" stroke-width="0.6"/>
<text x="423.7" y="533.6" font-size="7.7" fill="#4d4d4d" text-anchor="middle">40</text>
<text x="352.7" y="545.2" font-size="9.66" text-anchor="middle">Number of expected events</text>
<text transform="translate(239.2,476.75) rotate(-90)" font-size="9.66" text-anchor="middle">Observed / predicted</text>
<text x="253" y="423.6" font-size="11.5">2020</text>
<line x1="252.6" y1="491.35" x2="450.8" y2="491.35" stroke="#333" stroke-width="1.05" stroke-dasharray="3.7 3.0"/>
<g clip-path="url(#ce2020)" fill="none" stroke="#000" stroke-width="0.85"><path d="M265.54 385.35 L265.69 388.52 L265.85 391.62 L266.01 394.67 L266.19 397.65 L266.36 400.57 L266.55 403.43 L266.74 406.21 L266.95 408.92 L267.16 411.57 L267.38 414.14 L267.6 416.64 L267.84 419.06 L268.09 421.41 L268.35 423.68 L268.61 425.87 L268.89 427.99 L269.19 430.04 L269.49 432.01 L269.81 433.9 L270.13 435.72 L270.48 437.46 L270.84 439.13 L271.21 440.74 L271.6 442.27 L272 443.74 L272.42 445.14 L272.86 446.49 L273.31 447.77 L273.79 449 L274.29 450.17 L274.8 451.29 L275.34 452.37 L275.9 453.39 L276.48 454.38 L277.09 455.33 L277.72 456.24 L278.38 457.11 L279.07 457.95 L279.78 458.76 L280.53 459.54 L281.3 460.3 L282.11 461.03 L282.95 461.74 L283.83 462.43 L284.74 463.1 L285.7 463.75 L286.69 464.38 L287.72 464.99 L288.79 465.59 L289.92 466.18 L291.08 466.74 L292.3 467.3 L293.56 467.84 L294.88 468.36 L296.26 468.88 L297.69 469.38 L299.18 469.87 L300.73 470.34 L302.35 470.81 L304.64 471.42 L306.93 471.98 L309.22 472.5 L311.51 472.97 L313.8 473.42 L316.09 473.83 L318.38 474.22 L320.67 474.58 L322.96 474.93 L325.25 475.25 L327.54 475.55 L329.83 475.84 L332.12 476.11 L334.41 476.37 L336.7 476.62 L338.99 476.85 L341.28 477.08 L343.57 477.29 L345.86 477.49 L348.15 477.69 L350.44 477.88 L352.73 478.06 L355.02 478.23 L357.31 478.4 L359.6 478.56 L361.89 478.72 L364.18 478.87 L366.47 479.01 L368.76 479.15 L371.05 479.28 L373.34 479.41 L375.63 479.54 L377.92 479.66 L380.21 479.78 L382.5 479.9 L384.79 480.01 L387.08 480.12 L389.37 480.22 L391.66 480.32 L393.95 480.42 L396.24 480.52 L398.53 480.62 L400.81 480.71 L403.1 480.8 L405.39 480.89 L407.68 480.97 L409.97 481.05 L412.26 481.13 L414.55 481.21 L416.84 481.29 L419.13 481.37 L421.42 481.44 L423.71 481.51 L426 481.58 L428.29 481.65 L430.58 481.72 L432.87 481.79 L435.16 481.85 L437.45 481.92"/><path d="M262.1 524 L265.54 518.99 L265.69 518.92 L265.85 518.83 L266.01 518.74 L266.19 518.64 L266.36 518.53 L266.55 518.41 L266.74 518.29 L266.95 518.15 L267.16 518.01 L267.38 517.86 L267.6 517.7 L267.84 517.54 L268.09 517.36 L268.35 517.18 L268.61 517 L268.89 516.8 L269.19 516.6 L269.49 516.39 L269.81 516.17 L270.13 515.95 L270.48 515.73 L270.84 515.49 L271.21 515.26 L271.6 515.02 L272 514.77 L272.42 514.52 L272.86 514.27 L273.31 514.01 L273.79 513.75 L274.29 513.49 L274.8 513.23 L275.34 512.96 L275.9 512.69 L276.48 512.43 L277.09 512.15 L277.72 511.88 L278.38 511.61 L279.07 511.34 L279.78 511.07 L280.53 510.79 L281.3 510.52 L282.11 510.25 L282.95 509.98 L283.83 509.71 L284.74 509.44 L285.7 509.17 L286.69 508.9 L287.72 508.64 L288.79 508.37 L289.92 508.11 L291.08 507.85 L292.3 507.59 L293.56 507.33 L294.88 507.08 L296.26 506.82 L297.69 506.57 L299.18 506.32 L300.73 506.08 L302.35 505.83 L304.64 505.51 L306.93 505.2 L309.22 504.92 L311.51 504.65 L313.8 504.4 L316.09 504.16 L318.38 503.93 L320.67 503.72 L322.96 503.52 L325.25 503.32 L327.54 503.14 L329.83 502.96 L332.12 502.79 L334.41 502.63 L336.7 502.47 L338.99 502.33 L341.28 502.18 L343.57 502.05 L345.86 501.91 L348.15 501.79 L350.44 501.66 L352.73 501.54 L355.02 501.43 L357.31 501.32 L359.6 501.21 L361.89 501.11 L364.18 501.01 L366.47 500.91 L368.76 500.81 L371.05 500.72 L373.34 500.63 L375.63 500.54 L377.92 500.46 L380.21 500.38 L382.5 500.3 L384.79 500.22 L387.08 500.14 L389.37 500.07 L391.66 500 L393.95 499.93 L396.24 499.86 L398.53 499.79 L400.81 499.72 L403.1 499.66 L405.39 499.6 L407.68 499.53 L409.97 499.47 L412.26 499.42 L414.55 499.36 L416.84 499.3 L419.13 499.25 L421.42 499.19 L423.71 499.14 L426 499.09 L428.29 499.04 L430.58 498.99 L432.87 498.94 L435.16 498.89 L437.45 498.84"/></g>
<g fill="#000"><circle cx="265.6" cy="454.8" r="1.55"/><circle cx="263.5" cy="458.5" r="1.55"/><circle cx="281.7" cy="460.8" r="1.55"/><circle cx="268.4" cy="484.5" r="1.55"/><circle cx="272.8" cy="498.2" r="1.55"/><circle cx="275.8" cy="503" r="1.55"/><circle cx="266.1" cy="519.4" r="1.55"/><circle cx="311.3" cy="475" r="1.55"/><circle cx="306.3" cy="477.8" r="1.55"/><circle cx="304.5" cy="481.9" r="1.55"/><circle cx="304.5" cy="484.5" r="1.55"/><circle cx="285.4" cy="489.7" r="1.55"/><circle cx="286.5" cy="491" r="1.55"/><circle cx="291.2" cy="488" r="1.55"/><circle cx="292.4" cy="489" r="1.55"/><circle cx="293.6" cy="490.5" r="1.55"/><circle cx="304.5" cy="492.5" r="1.55"/><circle cx="308.4" cy="492" r="1.55"/><circle cx="312" cy="492.2" r="1.55"/><circle cx="312.5" cy="493.7" r="1.55"/><circle cx="314.3" cy="494.9" r="1.55"/><circle cx="313.7" cy="488.4" r="1.55"/><circle cx="317.9" cy="488.4" r="1.55"/><circle cx="320.8" cy="494.3" r="1.55"/><circle cx="317.9" cy="496.9" r="1.55"/><circle cx="324.4" cy="499.3" r="1.55"/><circle cx="328.3" cy="484.9" r="1.55"/><circle cx="334.2" cy="497.2" r="1.55"/><circle cx="339.5" cy="482.5" r="1.55"/><circle cx="289.3" cy="498.5" r="1.55"/><circle cx="293.6" cy="505" r="1.55"/><circle cx="295.5" cy="505.6" r="1.55"/><circle cx="297.9" cy="503.7" r="1.55"/><circle cx="304.9" cy="501" r="1.55"/><circle cx="303.7" cy="502.7" r="1.55"/><circle cx="301.3" cy="507.8" r="1.55"/><circle cx="301.1" cy="510.9" r="1.55"/><circle cx="341" cy="490.5" r="1.55"/><circle cx="345" cy="487.5" r="1.55"/><circle cx="350.7" cy="490.9" r="1.55"/><circle cx="353.7" cy="489.3" r="1.55"/><circle cx="354.5" cy="492" r="1.55"/><circle cx="355.4" cy="483.6" r="1.55"/><circle cx="357.6" cy="487" r="1.55"/><circle cx="363.7" cy="480.8" r="1.55"/><circle cx="364.1" cy="486.7" r="1.55"/><circle cx="371.4" cy="481.6" r="1.55"/><circle cx="373.6" cy="484.3" r="1.55"/><circle cx="372.6" cy="486.6" r="1.55"/><circle cx="368.5" cy="495.8" r="1.55"/><circle cx="375.6" cy="491.1" r="1.55"/><circle cx="377.1" cy="489.6" r="1.55"/><circle cx="378.5" cy="489.3" r="1.55"/><circle cx="380.3" cy="485.5" r="1.55"/><circle cx="381.7" cy="487.8" r="1.55"/><circle cx="386.8" cy="501.2" r="1.55"/><circle cx="395" cy="488.5" r="1.55"/><circle cx="401.3" cy="487.2" r="1.55"/><circle cx="411.7" cy="479.6" r="1.55"/><circle cx="437.6" cy="489.6" r="1.55"/><circle cx="394.2" cy="497.6" r="1.55"/><circle cx="409.9" cy="501.5" r="1.55"/></g>
<rect x="31.1" y="281.5" width="2" height="0.6" fill="#bbb"/>
<rect x="261.8" y="281.3" width="2" height="0.6" fill="#bbb"/>
<rect x="491.6" y="281.7" width="2" height="0.6" fill="#bbb"/>
<line x1="554.9" y1="194.8" x2="567.8" y2="194.8" stroke="#000" stroke-width="0.9"/>
<line x1="555.1" y1="211.8" x2="566.9" y2="211.8" stroke="#262626" stroke-width="1.0" stroke-dasharray="3.6 4.6"/>
<circle cx="561.5" cy="228.4" r="1.8" fill="#000"/>
<text x="574.9" y="198.38" font-size="8.6" fill="#222" textLength="89.2" lengthAdjust="spacingAndGlyphs">95% confidence interval</text>
<text x="574.9" y="215.38" font-size="8.6" fill="#222">benchmark (mean)</text>
<text x="574.9" y="231.98" font-size="8.6" fill="#222">hospital</text>
<line x1="567.6" y1="501.2" x2="579.2" y2="501.2" stroke="#000" stroke-width="0.9"/>
<line x1="567.9" y1="516.4" x2="578.1" y2="516.4" stroke="#262626" stroke-width="1.0" stroke-dasharray="2.9 4.0"/>
<circle cx="573.3" cy="531.3" r="1.8" fill="#000"/>
<text x="585.5" y="504.16" font-size="7.7" fill="#222">95% confidence interval</text>
<text x="585.5" y="519.36" font-size="7.7" fill="#222">benchmark</text>
<text x="585.5" y="534.26" font-size="7.7" fill="#222">hospital</text>
</svg>
</body></html>
